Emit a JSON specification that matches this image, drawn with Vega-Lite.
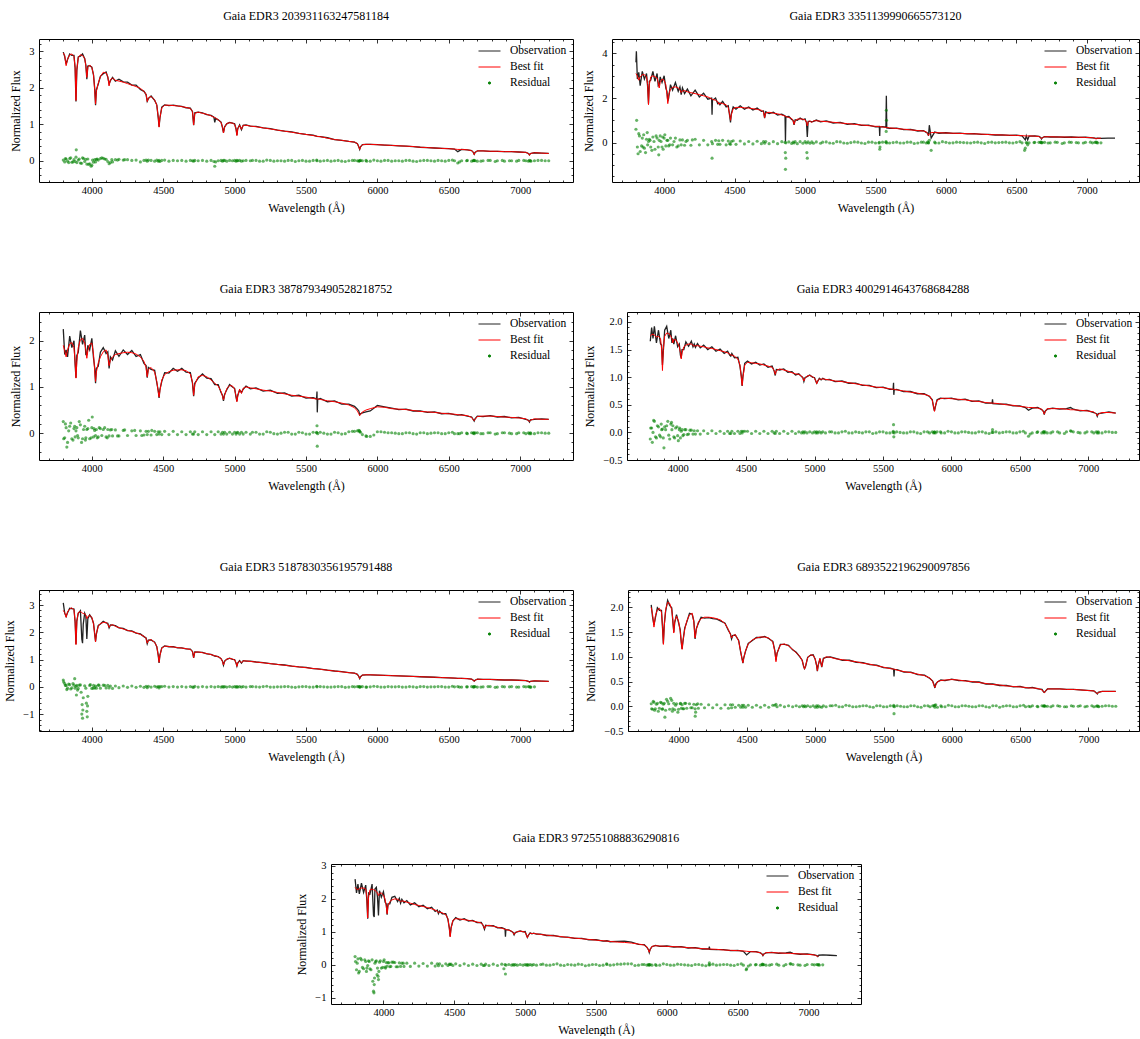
{
"$schema": "https://vega.github.io/schema/vega-lite/v6.json",
"padding": {"left": 3, "top": 9, "right": 0, "bottom": 0},
"spacing": 68,
"resolve": {"scale": {"color": "independent"}, "legend": {"color": "independent"}},
"datasets": {
"p1": [
{"w":3800,"fit":2.95,"obs":2.97,"res":0.02},{"w":3810,"fit":2.88,"obs":2.85,"res":-0.03},{"w":3815,"res":0.06},{"w":3820,"fit":2.6,"obs":2.64,"res":0.05},{"w":3830,"fit":2.78,"obs":2.77,"res":-0.01},{"w":3838,"res":-0.05},{"w":3845,"fit":2.9,"obs":2.92,"res":0.06},{"w":3852,"res":0.08},{"w":3860,"fit":2.92,"obs":2.88,"res":-0.04},{"w":3868,"res":-0.03},{"w":3875,"fit":2.85,"obs":2.88,"res":0.03},{"w":3883,"fit":2.55,"obs":2.53,"res":-0.02},{"w":3889,"fit":1.65,"obs":1.62,"res":0.1},{"w":3891,"res":0.3},{"w":3895,"fit":2.5,"obs":2.47,"res":-0.05},{"w":3905,"fit":2.82,"obs":2.84,"res":0.02},{"w":3912,"res":0.05},{"w":3920,"fit":2.9,"obs":2.86,"res":-0.06},{"w":3928,"res":-0.07},{"w":3935,"fit":2.88,"obs":2.92,"res":0.08},{"w":3942,"res":0.06},{"w":3950,"fit":2.8,"obs":2.79,"res":-0.02},{"w":3958,"fit":2.6,"obs":2.62,"res":0.04},{"w":3965,"fit":2.28,"obs":2.23,"res":-0.09},{"w":3972,"fit":2.55,"obs":2.59,"res":0.05},{"w":3978,"res":-0.1},{"w":3985,"fit":2.62,"obs":2.6,"res":-0.08},{"w":3995,"res":-0.15},{"w":4000,"fit":2.55,"obs":2.56,"res":-0.12},{"w":4005,"res":0.02},{"w":4012,"fit":2.35,"obs":2.34,"res":-0.04},{"w":4020,"fit":1.95,"obs":1.98,"res":0.03},{"w":4026,"fit":1.55,"obs":1.52,"res":-0.03},{"w":4032,"fit":1.9,"obs":1.94,"res":0.04},{"w":4038,"res":0.05},{"w":4045,"fit":2.12,"obs":2.1,"res":0.02},{"w":4060,"fit":2.3,"obs":2.31,"res":0.06},{"w":4070,"res":0.08},{"w":4080,"fit":2.42,"obs":2.38,"res":0.07},{"w":4090,"res":0.05},{"w":4100,"fit":2.4,"obs":2.43,"res":0.04},{"w":4112,"fit":2.3,"obs":2.28,"res":-0.02},{"w":4121,"fit":2.05,"obs":2.1,"res":-0.08},{"w":4130,"fit":2.22,"obs":2.19,"res":-0.05},{"w":4140,"res":0.03},{"w":4145,"fit":2.26,"obs":2.28,"res":-0.03},{"w":4165,"fit":2.2,"obs":2.18,"res":0.03},{"w":4180,"res":0.02},{"w":4190,"fit":2.18,"obs":2.23,"res":0.04},{"w":4220,"fit":2.15,"obs":2.16,"res":0.02},{"w":4230,"res":0.03},{"w":4250,"fit":2.11,"obs":2.15,"res":0.03},{"w":4280,"fit":2.07,"obs":2.07,"res":0.01},{"w":4310,"fit":2.03,"obs":2.07,"res":0.02},{"w":4340,"fit":1.98,"obs":1.95,"res":-0.03},{"w":4365,"fit":1.9,"obs":1.9,"res":0.01},{"w":4380,"fit":1.82,"obs":1.81,"res":0.02},{"w":4388,"fit":1.62,"obs":1.63,"res":-0.01},{"w":4396,"fit":1.72,"obs":1.7,"res":0.02},{"w":4415,"fit":1.76,"obs":1.77,"res":0.01},{"w":4440,"fit":1.66,"obs":1.65,"res":-0.01},{"w":4455,"fit":1.52,"obs":1.53,"res":0.02},{"w":4465,"fit":1.2,"obs":1.18,"res":-0.01},{"w":4471,"fit":0.92,"obs":0.93,"res":0.01},{"w":4477,"fit":1.18,"obs":1.17,"res":-0.02},{"w":4490,"fit":1.45,"obs":1.47,"res":0.01},{"w":4510,"fit":1.52,"obs":1.53,"res":0.02},{"w":4540,"fit":1.52,"obs":1.51,"res":-0.01},{"w":4570,"fit":1.51,"obs":1.52,"res":0.01},{"w":4600,"fit":1.5,"obs":1.5,"res":0},{"w":4630,"fit":1.48,"obs":1.49,"res":0.01},{"w":4660,"fit":1.46,"obs":1.45,"res":-0.01},{"w":4690,"fit":1.43,"obs":1.44,"res":0.01},{"w":4705,"fit":1.35,"obs":1.34,"res":0},{"w":4713,"fit":0.98,"obs":0.97,"res":-0.01},{"w":4721,"fit":1.3,"obs":1.31,"res":0.01},{"w":4745,"fit":1.33,"obs":1.33,"res":0},{"w":4775,"fit":1.3,"obs":1.31,"res":0.01},{"w":4805,"fit":1.27,"obs":1.26,"res":-0.01},{"w":4835,"fit":1.23,"obs":1.24,"res":0.01},{"w":4855,"fit":1.19,"obs":1.19,"res":-0.02},{"w":4861,"fit":1.18,"obs":1.05,"res":-0.15},{"w":4867,"fit":1.17,"obs":1.16,"res":-0.03},{"w":4885,"fit":1.12,"obs":1.12,"res":0},{"w":4905,"fit":1.05,"obs":1.06,"res":0.01},{"w":4915,"fit":0.92,"obs":0.91,"res":-0.01},{"w":4922,"fit":0.76,"obs":0.77,"res":0.01},{"w":4930,"fit":0.92,"obs":0.93,"res":0.01},{"w":4945,"fit":1.02,"obs":1.01,"res":-0.01},{"w":4965,"fit":1.04,"obs":1.05,"res":0.01},{"w":4985,"fit":1.03,"obs":1.03,"res":0},{"w":5000,"fit":1.0,"obs":1.01,"res":0.01},{"w":5010,"fit":0.88,"obs":0.87,"res":-0.01},{"w":5016,"fit":0.69,"obs":0.7,"res":0.01},{"w":5022,"fit":0.88,"obs":0.88,"res":0},{"w":5035,"fit":0.97,"obs":0.98,"res":0.01},{"w":5048,"fit":0.86,"obs":0.85,"res":-0.01},{"w":5060,"fit":0.97,"obs":0.97,"res":0},{"w":5080,"fit":0.97,"obs":0.98,"res":0.01},{"w":5110,"fit":0.95,"obs":0.95,"res":0},{"w":5150,"fit":0.93,"obs":0.94,"res":0.01},{"w":5200,"fit":0.9,"obs":0.9,"res":-0.01},{"w":5250,"fit":0.87,"obs":0.88,"res":0.01},{"w":5300,"fit":0.84,"obs":0.84,"res":0},{"w":5350,"fit":0.81,"obs":0.81,"res":-0.01},{"w":5400,"fit":0.78,"obs":0.79,"res":0.01},{"w":5450,"fit":0.75,"obs":0.75,"res":0},{"w":5500,"fit":0.72,"obs":0.72,"res":-0.01},{"w":5550,"fit":0.69,"obs":0.7,"res":0.01},{"w":5577,"fit":0.67,"obs":0.67,"res":0},{"w":5600,"fit":0.66,"obs":0.66,"res":-0.01},{"w":5650,"fit":0.62,"obs":0.63,"res":0.01},{"w":5700,"fit":0.58,"obs":0.58,"res":0},{"w":5750,"fit":0.56,"obs":0.56,"res":-0.01},{"w":5800,"fit":0.53,"obs":0.53,"res":0},{"w":5840,"fit":0.51,"obs":0.51,"res":0.01},{"w":5860,"fit":0.47,"obs":0.47,"res":0},{"w":5870,"fit":0.38,"obs":0.38,"res":-0.01},{"w":5876,"fit":0.31,"obs":0.31,"res":0},{"w":5882,"fit":0.38,"obs":0.38,"res":0.01},{"w":5895,"fit":0.44,"obs":0.44,"res":0},{"w":5920,"fit":0.45,"obs":0.45,"res":0.01},{"w":5950,"fit":0.45,"obs":0.45,"res":-0.01},{"w":6000,"fit":0.44,"obs":0.44,"res":0},{"w":6050,"fit":0.43,"obs":0.43,"res":0.01},{"w":6100,"fit":0.42,"obs":0.42,"res":-0.01},{"w":6150,"fit":0.41,"obs":0.41,"res":0},{"w":6200,"fit":0.4,"obs":0.4,"res":0.01},{"w":6250,"fit":0.39,"obs":0.39,"res":-0.01},{"w":6300,"fit":0.37,"obs":0.37,"res":0},{"w":6350,"fit":0.36,"obs":0.36,"res":0.01},{"w":6400,"fit":0.35,"obs":0.35,"res":-0.01},{"w":6450,"fit":0.34,"obs":0.34,"res":0},{"w":6500,"fit":0.33,"obs":0.33,"res":0.01},{"w":6540,"fit":0.32,"obs":0.32,"res":0},{"w":6563,"fit":0.31,"obs":0.25,"res":-0.06},{"w":6590,"fit":0.31,"obs":0.31,"res":0},{"w":6630,"fit":0.3,"obs":0.3,"res":0.01},{"w":6660,"fit":0.28,"obs":0.28,"res":-0.01},{"w":6672,"fit":0.23,"obs":0.23,"res":0},{"w":6678,"fit":0.17,"obs":0.18,"res":0.01},{"w":6684,"fit":0.23,"obs":0.23,"res":0},{"w":6700,"fit":0.27,"obs":0.27,"res":-0.01},{"w":6740,"fit":0.27,"obs":0.27,"res":0},{"w":6790,"fit":0.26,"obs":0.26,"res":0.01},{"w":6840,"fit":0.26,"obs":0.26,"res":0},{"w":6890,"fit":0.25,"obs":0.25,"res":-0.01},{"w":6940,"fit":0.25,"obs":0.25,"res":0},{"w":6990,"fit":0.24,"obs":0.24,"res":0.01},{"w":7040,"fit":0.23,"obs":0.23,"res":0},{"w":7058,"fit":0.2,"obs":0.2,"res":-0.01},{"w":7065,"fit":0.15,"obs":0.16,"res":0.01},{"w":7072,"fit":0.2,"obs":0.2,"res":0},{"w":7100,"fit":0.22,"obs":0.22,"res":0},{"w":7150,"fit":0.21,"obs":0.21,"res":0.01},{"w":7200,"fit":0.2,"obs":0.2,"res":0},
{"w":5125,"res":0.01},{"w":5175,"res":-0.01},{"w":5225,"res":0.02},{"w":5275,"res":-0.01},{"w":5325,"res":0},{"w":5375,"res":0.01},{"w":5425,"res":-0.02},{"w":5475,"res":0.01},{"w":5525,"res":-0.01},{"w":5575,"res":0.02},{"w":5625,"res":0},{"w":5675,"res":-0.01},{"w":5725,"res":0.01},{"w":5775,"res":-0.02},{"w":5825,"res":0.01},{"w":5875,"res":0},{"w":5925,"res":-0.01},{"w":5975,"res":0.02},{"w":6025,"res":-0.01},{"w":6075,"res":0.01},{"w":6125,"res":0},{"w":6175,"res":-0.01},{"w":6225,"res":0.01},{"w":6275,"res":-0.02},{"w":6325,"res":0.01},{"w":6375,"res":0},{"w":6425,"res":0.01},{"w":6475,"res":-0.01},{"w":6525,"res":0.02},{"w":6575,"res":-0.03},{"w":6625,"res":0},{"w":6675,"res":0.01},{"w":6725,"res":-0.01},{"w":6775,"res":0.01},{"w":6825,"res":-0.02},{"w":6875,"res":0.01},{"w":6925,"res":0},{"w":6975,"res":-0.01},{"w":7025,"res":0.01},{"w":7075,"res":-0.01},{"w":7125,"res":0.01},{"w":7175,"res":0}
],
"p2": [
{"w":3800,"fit":3.1,"obs":3.6,"res":0.6},{"w":3803,"obs":4.1},{"w":3805,"res":1.0},{"w":3810,"fit":3.0,"obs":2.85,"res":-0.2},{"w":3815,"res":-0.5},{"w":3820,"fit":2.8,"obs":3.15,"res":0.4},{"w":3825,"res":0.3},{"w":3830,"fit":2.95,"obs":2.55,"res":-0.4},{"w":3840,"res":-0.15},{"w":3845,"fit":3.05,"obs":3.2,"res":0.2},{"w":3850,"res":-0.2},{"w":3855,"res":0.35},{"w":3860,"fit":3.05,"obs":2.85,"res":-0.25},{"w":3868,"res":-0.45},{"w":3875,"fit":2.95,"obs":3.1,"res":0.15},{"w":3880,"res":0.45},{"w":3883,"fit":2.6,"obs":2.5,"res":-0.1},{"w":3889,"fit":1.7,"obs":1.75,"res":0.05},{"w":3895,"fit":2.6,"obs":2.75,"res":0.15},{"w":3900,"res":0.1},{"w":3905,"fit":2.95,"obs":2.8,"res":-0.2},{"w":3913,"res":-0.35},{"w":3920,"fit":3.0,"obs":3.2,"res":0.25},{"w":3928,"res":0.05},{"w":3935,"fit":2.95,"obs":2.75,"res":-0.3},{"w":3943,"res":0.3},{"w":3950,"fit":2.9,"obs":3.1,"res":0.2},{"w":3958,"fit":2.7,"obs":2.55,"res":-0.2},{"w":3962,"res":-0.55},{"w":3965,"fit":2.45,"obs":2.6,"res":0.1},{"w":3972,"fit":2.7,"obs":2.95,"res":0.3},{"w":3978,"res":0.05},{"w":3985,"fit":2.85,"obs":2.7,"res":-0.2},{"w":3990,"res":0.25},{"w":3993,"res":-0.3},{"w":4000,"fit":2.8,"obs":3.0,"res":0.2},{"w":4005,"res":0.35},{"w":4012,"fit":2.6,"obs":2.45,"res":-0.15},{"w":4020,"fit":2.15,"obs":2.3,"res":0.1},{"w":4026,"fit":1.75,"obs":1.85,"res":0.1},{"w":4032,"fit":2.15,"obs":2.0,"res":-0.15},{"w":4040,"res":-0.1},{"w":4045,"fit":2.4,"obs":2.6,"res":0.2},{"w":4060,"fit":2.48,"obs":2.35,"res":-0.1},{"w":4070,"res":0.05},{"w":4080,"fit":2.5,"obs":2.7,"res":0.2},{"w":4090,"res":-0.2},{"w":4100,"fit":2.45,"obs":2.3,"res":-0.15},{"w":4112,"fit":2.38,"obs":2.5,"res":0.12},{"w":4121,"fit":2.25,"obs":2.15,"res":-0.1},{"w":4130,"fit":2.32,"obs":2.45,"res":0.12},{"w":4145,"fit":2.33,"obs":2.2,"res":-0.12},{"w":4155,"res":0.05},{"w":4165,"fit":2.28,"obs":2.4,"res":0.1},{"w":4190,"fit":2.24,"obs":2.1,"res":-0.12},{"w":4200,"res":0.12},{"w":4220,"fit":2.2,"obs":2.35,"res":0.15},{"w":4250,"fit":2.15,"obs":2.05,"res":-0.1},{"w":4280,"fit":2.1,"obs":2.22,"res":0.1},{"w":4310,"fit":2.05,"obs":1.95,"res":-0.1},{"w":4337,"fit":1.96,"obs":2.0,"res":0.05},{"w":4340,"fit":1.95,"obs":1.25,"res":-0.7},{"w":4343,"fit":1.94,"obs":1.9,"res":-0.05},{"w":4365,"fit":1.9,"obs":2.0,"res":0.1},{"w":4380,"fit":1.84,"obs":1.75,"res":-0.08},{"w":4388,"fit":1.72,"obs":1.8,"res":0.08},{"w":4396,"fit":1.78,"obs":1.7,"res":-0.08},{"w":4415,"fit":1.75,"obs":1.85,"res":0.1},{"w":4440,"fit":1.7,"obs":1.6,"res":-0.1},{"w":4455,"fit":1.58,"obs":1.65,"res":0.07},{"w":4465,"fit":1.25,"obs":1.2,"res":-0.05},{"w":4471,"fit":1.0,"obs":0.9,"res":-0.08},{"w":4477,"fit":1.25,"obs":1.3,"res":0.05},{"w":4490,"fit":1.52,"obs":1.6,"res":0.08},{"w":4510,"fit":1.58,"obs":1.5,"res":-0.08},{"w":4540,"fit":1.58,"obs":1.65,"res":0.07},{"w":4570,"fit":1.56,"obs":1.5,"res":-0.06},{"w":4600,"fit":1.55,"obs":1.6,"res":0.05},{"w":4630,"fit":1.52,"obs":1.46,"res":-0.06},{"w":4660,"fit":1.49,"obs":1.55,"res":0.06},{"w":4690,"fit":1.45,"obs":1.4,"res":-0.05},{"w":4705,"fit":1.38,"obs":1.42,"res":0.04},{"w":4713,"fit":1.12,"obs":1.1,"res":-0.03},{"w":4721,"fit":1.33,"obs":1.38,"res":0.05},{"w":4745,"fit":1.36,"obs":1.3,"res":-0.05},{"w":4775,"fit":1.32,"obs":1.36,"res":0.04},{"w":4805,"fit":1.29,"obs":1.24,"res":-0.05},{"w":4835,"fit":1.24,"obs":1.28,"res":0.04},{"w":4858,"fit":1.19,"obs":1.2,"res":0.01},{"w":4860,"res":-0.45},{"w":4861,"fit":1.18,"obs":0.05,"res":-1.2},{"w":4863,"res":-0.7},{"w":4864,"fit":1.17,"obs":1.16,"res":-0.01},{"w":4885,"fit":1.13,"obs":1.17,"res":0.03},{"w":4905,"fit":1.08,"obs":1.04,"res":-0.04},{"w":4915,"fit":0.98,"obs":1.0,"res":0.02},{"w":4922,"fit":0.82,"obs":0.8,"res":-0.02},{"w":4930,"fit":0.98,"obs":1.02,"res":0.04},{"w":4945,"fit":1.05,"obs":1.0,"res":-0.05},{"w":4965,"fit":1.06,"obs":1.1,"res":0.04},{"w":4985,"fit":1.05,"obs":1.02,"res":-0.03},{"w":5000,"fit":1.02,"obs":1.06,"res":0.04},{"w":5010,"fit":0.92,"obs":0.9,"res":-0.02},{"w":5013,"res":-0.45},{"w":5016,"fit":0.75,"obs":0.25,"res":-0.7},{"w":5022,"fit":0.92,"obs":0.95,"res":0.03},{"w":5035,"fit":0.98,"obs":0.95,"res":-0.03},{"w":5048,"fit":0.9,"obs":0.93,"res":0.03},{"w":5060,"fit":0.98,"obs":0.95,"res":-0.03},{"w":5080,"fit":0.98,"obs":1.01,"res":0.03},{"w":5110,"fit":0.96,"obs":0.93,"res":-0.03},{"w":5150,"fit":0.94,"obs":0.97,"res":0.03},{"w":5200,"fit":0.91,"obs":0.88,"res":-0.03},{"w":5250,"fit":0.88,"obs":0.91,"res":0.03},{"w":5300,"fit":0.85,"obs":0.82,"res":-0.03},{"w":5350,"fit":0.82,"obs":0.85,"res":0.03},{"w":5400,"fit":0.79,"obs":0.77,"res":-0.02},{"w":5450,"fit":0.76,"obs":0.78,"res":0.02},{"w":5500,"fit":0.73,"obs":0.71,"res":-0.02},{"w":5527,"fit":0.72,"obs":0.72,"res":0.01},{"w":5530,"fit":0.71,"obs":0.3,"res":-0.3},{"w":5532,"fit":0.71,"obs":0.7,"res":-0.2},{"w":5550,"fit":0.7,"obs":0.72,"res":0.02},{"w":5574,"fit":0.68,"obs":0.69,"res":0.01},{"w":5576,"res":0.5},{"w":5577,"fit":0.68,"obs":2.1,"res":1.45},{"w":5578,"res":1.0},{"w":5580,"fit":0.68,"obs":0.66,"res":-0.02},{"w":5600,"fit":0.66,"obs":0.64,"res":-0.02},{"w":5650,"fit":0.63,"obs":0.65,"res":0.02},{"w":5700,"fit":0.6,"obs":0.58,"res":-0.02},{"w":5750,"fit":0.57,"obs":0.59,"res":0.02},{"w":5800,"fit":0.54,"obs":0.52,"res":-0.02},{"w":5840,"fit":0.52,"obs":0.54,"res":0.02},{"w":5860,"fit":0.48,"obs":0.46,"res":-0.02},{"w":5870,"fit":0.4,"obs":0.42,"res":0.02},{"w":5876,"fit":0.32,"obs":0.3,"res":-0.02},{"w":5882,"fit":0.4,"obs":0.78,"res":0.1},{"w":5895,"fit":0.45,"obs":0.2,"res":-0.35},{"w":5920,"fit":0.45,"obs":0.47,"res":0.02},{"w":5950,"fit":0.44,"obs":0.42,"res":-0.02},{"w":6000,"fit":0.43,"obs":0.44,"res":0.01},{"w":6050,"fit":0.42,"obs":0.41,"res":-0.01},{"w":6100,"fit":0.41,"obs":0.42,"res":0.01},{"w":6150,"fit":0.4,"obs":0.39,"res":-0.01},{"w":6200,"fit":0.39,"obs":0.4,"res":0.01},{"w":6250,"fit":0.38,"obs":0.37,"res":-0.01},{"w":6300,"fit":0.36,"obs":0.37,"res":0.01},{"w":6350,"fit":0.35,"obs":0.34,"res":-0.01},{"w":6400,"fit":0.34,"obs":0.35,"res":0.01},{"w":6450,"fit":0.33,"obs":0.32,"res":-0.01},{"w":6500,"fit":0.32,"obs":0.33,"res":0.01},{"w":6540,"fit":0.31,"obs":0.3,"res":-0.01},{"w":6558,"res":-0.35},{"w":6563,"fit":0.3,"obs":0.12,"res":-0.25},{"w":6570,"fit":0.3,"obs":0.3,"res":0},{"w":6580,"fit":0.3,"obs":0.12,"res":-0.1},{"w":6590,"fit":0.3,"obs":0.29,"res":-0.01},{"w":6630,"fit":0.29,"obs":0.3,"res":0.01},{"w":6660,"fit":0.27,"obs":0.28,"res":0.01},{"w":6672,"fit":0.22,"obs":0.23,"res":0.01},{"w":6678,"fit":0.17,"obs":0.16,"res":-0.01},{"w":6684,"fit":0.22,"obs":0.22,"res":0},{"w":6700,"fit":0.26,"obs":0.27,"res":0.01},{"w":6740,"fit":0.26,"obs":0.25,"res":-0.01},{"w":6790,"fit":0.25,"obs":0.26,"res":0.01},{"w":6840,"fit":0.25,"obs":0.24,"res":-0.01},{"w":6890,"fit":0.24,"obs":0.25,"res":0.01},{"w":6940,"fit":0.24,"obs":0.23,"res":-0.01},{"w":6990,"fit":0.23,"obs":0.24,"res":0.01},{"w":7040,"fit":0.22,"obs":0.21,"res":-0.01},{"w":7058,"fit":0.19,"obs":0.2,"res":0.01},{"w":7065,"fit":0.16,"obs":0.18,"res":0.02},{"w":7072,"fit":0.19,"obs":0.2,"res":0.01},{"w":7100,"fit":0.2,"obs":0.19,"res":-0.01},{"w":7150,"obs":0.2},{"w":7200,"obs":0.2},
{"w":5125,"res":0.02},{"w":5175,"res":-0.02},{"w":5225,"res":0.04},{"w":5275,"res":-0.02},{"w":5325,"res":0},{"w":5375,"res":0.02},{"w":5425,"res":-0.04},{"w":5475,"res":0.02},{"w":5525,"res":-0.02},{"w":5575,"res":0.04},{"w":5625,"res":0},{"w":5675,"res":-0.02},{"w":5725,"res":0.02},{"w":5775,"res":-0.04},{"w":5825,"res":0.02},{"w":5875,"res":0},{"w":5925,"res":-0.02},{"w":5975,"res":0.04},{"w":6025,"res":-0.02},{"w":6075,"res":0.02},{"w":6125,"res":0},{"w":6175,"res":-0.02},{"w":6225,"res":0.02},{"w":6275,"res":-0.04},{"w":6325,"res":0.02},{"w":6375,"res":0},{"w":6425,"res":0.02},{"w":6475,"res":-0.02},{"w":6525,"res":0.04},{"w":6575,"res":-0.02},{"w":6625,"res":0},{"w":6675,"res":0.02},{"w":6725,"res":-0.02},{"w":6775,"res":0.02},{"w":6825,"res":-0.04},{"w":6875,"res":0.02},{"w":6925,"res":0},{"w":6975,"res":-0.02},{"w":7025,"res":0.02},{"w":7075,"res":-0.02}
],
"p3": [
{"w":3800,"fit":1.9,"obs":2.25,"res":0.25},{"w":3803,"res":-0.12},{"w":3810,"fit":1.78,"obs":1.7,"res":-0.1},{"w":3815,"res":0.2},{"w":3820,"fit":1.65,"obs":1.8,"res":0.12},{"w":3825,"res":-0.3},{"w":3830,"fit":1.8,"obs":1.65,"res":-0.2},{"w":3838,"res":0.05},{"w":3845,"fit":1.93,"obs":2.1,"res":0.15},{"w":3852,"res":0.22},{"w":3860,"fit":1.96,"obs":1.85,"res":-0.12},{"w":3868,"res":-0.15},{"w":3875,"fit":1.85,"obs":2.0,"res":0.1},{"w":3880,"res":0.15},{"w":3883,"fit":1.55,"obs":1.48,"res":-0.08},{"w":3889,"fit":1.19,"obs":1.2,"res":0.05},{"w":3895,"fit":1.55,"obs":1.68,"res":0.12},{"w":3900,"res":-0.05},{"w":3905,"fit":1.85,"obs":1.75,"res":-0.1},{"w":3912,"res":0.25},{"w":3920,"fit":2.02,"obs":2.22,"res":0.18},{"w":3928,"res":-0.2},{"w":3935,"fit":2.05,"obs":1.92,"res":-0.12},{"w":3942,"res":0.08},{"w":3950,"fit":1.95,"obs":2.12,"res":0.15},{"w":3955,"res":-0.15},{"w":3958,"fit":1.8,"obs":1.7,"res":-0.1},{"w":3965,"fit":1.62,"obs":1.7,"res":0.08},{"w":3972,"fit":1.78,"obs":1.9,"res":0.1},{"w":3978,"res":0.28},{"w":3985,"fit":1.92,"obs":1.8,"res":-0.12},{"w":3995,"res":-0.1},{"w":4000,"fit":1.95,"obs":2.05,"res":0.12},{"w":4003,"res":0.35},{"w":4012,"fit":1.7,"obs":1.62,"res":-0.08},{"w":4015,"res":0.1},{"w":4020,"fit":1.35,"obs":1.42,"res":0.06},{"w":4026,"fit":1.12,"obs":1.08,"res":-0.05},{"w":4032,"fit":1.32,"obs":1.4,"res":0.08},{"w":4038,"res":-0.1},{"w":4045,"fit":1.52,"obs":1.45,"res":-0.08},{"w":4052,"res":0.12},{"w":4060,"fit":1.65,"obs":1.75,"res":0.1},{"w":4070,"res":-0.05},{"w":4080,"fit":1.76,"obs":1.85,"res":0.08},{"w":4090,"res":0.12},{"w":4100,"fit":1.8,"obs":1.72,"res":-0.08},{"w":4108,"res":-0.1},{"w":4112,"fit":1.68,"obs":1.76,"res":0.08},{"w":4121,"fit":1.46,"obs":1.4,"res":-0.06},{"w":4130,"fit":1.58,"obs":1.65,"res":0.07},{"w":4140,"res":0.08},{"w":4145,"fit":1.65,"obs":1.58,"res":-0.06},{"w":4165,"fit":1.7,"obs":1.78,"res":0.07},{"w":4180,"res":-0.06},{"w":4190,"fit":1.72,"obs":1.66,"res":-0.06},{"w":4220,"fit":1.74,"obs":1.8,"res":0.06},{"w":4230,"res":0.07},{"w":4250,"fit":1.75,"obs":1.7,"res":-0.05},{"w":4280,"fit":1.74,"obs":1.79,"res":0.05},{"w":4300,"res":0.06},{"w":4310,"fit":1.71,"obs":1.66,"res":-0.05},{"w":4340,"fit":1.65,"obs":1.7,"res":0.05},{"w":4350,"res":-0.05},{"w":4365,"fit":1.55,"obs":1.51,"res":-0.04},{"w":4380,"fit":1.42,"obs":1.46,"res":0.04},{"w":4388,"fit":1.22,"obs":1.2,"res":-0.03},{"w":4396,"fit":1.38,"obs":1.42,"res":0.04},{"w":4415,"fit":1.42,"obs":1.38,"res":-0.04},{"w":4420,"res":0.06},{"w":4440,"fit":1.32,"obs":1.36,"res":0.04},{"w":4455,"fit":1.12,"obs":1.09,"res":-0.03},{"w":4465,"fit":0.9,"obs":0.92,"res":0.03},{"w":4471,"fit":0.78,"obs":0.76,"res":-0.02},{"w":4477,"fit":0.92,"obs":0.95,"res":0.03},{"w":4490,"fit":1.15,"obs":1.12,"res":-0.03},{"w":4510,"fit":1.27,"obs":1.31,"res":0.04},{"w":4540,"fit":1.33,"obs":1.3,"res":-0.03},{"w":4570,"fit":1.36,"obs":1.4,"res":0.04},{"w":4600,"fit":1.37,"obs":1.34,"res":-0.03},{"w":4630,"fit":1.37,"obs":1.4,"res":0.03},{"w":4660,"fit":1.35,"obs":1.32,"res":-0.03},{"w":4690,"fit":1.28,"obs":1.31,"res":0.03},{"w":4705,"fit":1.1,"obs":1.08,"res":-0.02},{"w":4713,"fit":0.82,"obs":0.8,"res":-0.02},{"w":4721,"fit":1.05,"obs":1.08,"res":0.03},{"w":4745,"fit":1.22,"obs":1.19,"res":-0.03},{"w":4775,"fit":1.25,"obs":1.28,"res":0.03},{"w":4805,"fit":1.22,"obs":1.19,"res":-0.03},{"w":4835,"fit":1.15,"obs":1.18,"res":0.03},{"w":4861,"fit":1.08,"obs":1.05,"res":-0.03},{"w":4885,"fit":1.02,"obs":1.05,"res":0.03},{"w":4905,"fit":0.9,"obs":0.88,"res":-0.02},{"w":4915,"fit":0.8,"obs":0.82,"res":0.02},{"w":4922,"fit":0.72,"obs":0.7,"res":-0.02},{"w":4930,"fit":0.82,"obs":0.84,"res":0.02},{"w":4945,"fit":0.96,"obs":0.94,"res":-0.02},{"w":4965,"fit":1.03,"obs":1.05,"res":0.02},{"w":4985,"fit":1.02,"obs":1.0,"res":-0.02},{"w":5000,"fit":0.95,"obs":0.97,"res":0.02},{"w":5010,"fit":0.8,"obs":0.78,"res":-0.02},{"w":5016,"fit":0.68,"obs":0.69,"res":0.01},{"w":5022,"fit":0.8,"obs":0.82,"res":0.02},{"w":5035,"fit":0.95,"obs":0.93,"res":-0.02},{"w":5048,"fit":0.86,"obs":0.88,"res":0.02},{"w":5060,"fit":0.97,"obs":0.95,"res":-0.02},{"w":5080,"fit":1.0,"obs":1.02,"res":0.02},{"w":5110,"fit":0.98,"obs":0.96,"res":-0.02},{"w":5150,"fit":0.96,"obs":0.98,"res":0.02},{"w":5200,"fit":0.93,"obs":0.91,"res":-0.02},{"w":5250,"fit":0.91,"obs":0.93,"res":0.02},{"w":5300,"fit":0.88,"obs":0.86,"res":-0.02},{"w":5350,"fit":0.85,"obs":0.87,"res":0.02},{"w":5400,"fit":0.82,"obs":0.8,"res":-0.02},{"w":5450,"fit":0.8,"obs":0.82,"res":0.02},{"w":5500,"fit":0.78,"obs":0.76,"res":-0.02},{"w":5550,"fit":0.75,"obs":0.77,"res":0.02},{"w":5574,"fit":0.74,"obs":0.74,"res":0.01},{"w":5577,"fit":0.74,"obs":0.9,"res":0.16},{"w":5579,"fit":0.74,"obs":0.45,"res":-0.28},{"w":5582,"fit":0.74,"obs":0.73,"res":-0.01},{"w":5600,"fit":0.73,"obs":0.75,"res":0.02},{"w":5650,"fit":0.7,"obs":0.68,"res":-0.02},{"w":5700,"fit":0.68,"obs":0.7,"res":0.02},{"w":5750,"fit":0.65,"obs":0.63,"res":-0.02},{"w":5800,"fit":0.61,"obs":0.63,"res":0.03},{"w":5840,"fit":0.55,"obs":0.58,"res":0.04},{"w":5860,"fit":0.48,"obs":0.52,"res":0.05},{"w":5870,"fit":0.42,"obs":0.48,"res":0.06},{"w":5876,"fit":0.38,"obs":0.4,"res":0.03},{"w":5882,"fit":0.4,"obs":0.42,"res":0.02},{"w":5895,"fit":0.46,"obs":0.44,"res":-0.03},{"w":5920,"fit":0.5,"obs":0.46,"res":-0.06},{"w":5950,"fit":0.53,"obs":0.48,"res":-0.07},{"w":6000,"fit":0.57,"obs":0.6,"res":0.03},{"w":6050,"fit":0.56,"obs":0.57,"res":0.02},{"w":6100,"fit":0.53,"obs":0.54,"res":0.01},{"w":6150,"fit":0.52,"obs":0.51,"res":-0.01},{"w":6200,"fit":0.51,"obs":0.52,"res":0.01},{"w":6250,"fit":0.49,"obs":0.48,"res":-0.01},{"w":6300,"fit":0.47,"obs":0.48,"res":0.01},{"w":6350,"fit":0.46,"obs":0.45,"res":-0.01},{"w":6400,"fit":0.45,"obs":0.46,"res":0.01},{"w":6450,"fit":0.43,"obs":0.42,"res":-0.01},{"w":6500,"fit":0.42,"obs":0.43,"res":0.01},{"w":6540,"fit":0.41,"obs":0.4,"res":-0.01},{"w":6563,"fit":0.4,"obs":0.39,"res":-0.01},{"w":6590,"fit":0.39,"obs":0.4,"res":0.01},{"w":6630,"fit":0.38,"obs":0.37,"res":-0.01},{"w":6660,"fit":0.34,"obs":0.35,"res":0.01},{"w":6672,"fit":0.29,"obs":0.29,"res":0},{"w":6678,"fit":0.27,"obs":0.26,"res":-0.01},{"w":6684,"fit":0.3,"obs":0.31,"res":0.01},{"w":6700,"fit":0.36,"obs":0.37,"res":0.01},{"w":6740,"fit":0.37,"obs":0.36,"res":-0.01},{"w":6790,"fit":0.37,"obs":0.38,"res":0.01},{"w":6840,"fit":0.36,"obs":0.35,"res":-0.01},{"w":6890,"fit":0.35,"obs":0.36,"res":0.01},{"w":6940,"fit":0.34,"obs":0.33,"res":-0.01},{"w":6990,"fit":0.33,"obs":0.34,"res":0.01},{"w":7040,"fit":0.31,"obs":0.3,"res":-0.01},{"w":7058,"fit":0.27,"obs":0.28,"res":0.01},{"w":7065,"fit":0.25,"obs":0.24,"res":-0.01},{"w":7072,"fit":0.28,"obs":0.29,"res":0.01},{"w":7100,"fit":0.31,"obs":0.3,"res":-0.01},{"w":7150,"fit":0.3,"obs":0.31,"res":0.01},{"w":7200,"fit":0.3,"obs":0.3,"res":0},
{"w":5125,"res":0.02},{"w":5175,"res":-0.02},{"w":5225,"res":0.03},{"w":5275,"res":-0.01},{"w":5325,"res":0},{"w":5375,"res":0.02},{"w":5425,"res":-0.02},{"w":5475,"res":0.01},{"w":5525,"res":-0.02},{"w":5575,"res":0.02},{"w":5625,"res":0},{"w":5675,"res":-0.02},{"w":5725,"res":0.01},{"w":5775,"res":-0.01},{"w":5825,"res":0.04},{"w":5875,"res":0.05},{"w":5925,"res":-0.07},{"w":5975,"res":-0.04},{"w":6025,"res":0.03},{"w":6075,"res":0.01},{"w":6125,"res":0},{"w":6175,"res":-0.01},{"w":6225,"res":0.01},{"w":6275,"res":-0.02},{"w":6325,"res":0.01},{"w":6375,"res":0},{"w":6425,"res":0.01},{"w":6475,"res":-0.01},{"w":6525,"res":0.02},{"w":6575,"res":-0.01},{"w":6625,"res":0},{"w":6675,"res":0.01},{"w":6725,"res":-0.01},{"w":6775,"res":0.01},{"w":6825,"res":-0.02},{"w":6875,"res":0.01},{"w":6925,"res":0},{"w":6975,"res":-0.01},{"w":7025,"res":0.01},{"w":7075,"res":-0.01},{"w":7125,"res":0.01},{"w":7175,"res":0}
],
"p4": [
{"w":3800,"fit":1.75,"obs":1.65,"res":-0.12},{"w":3803,"res":0.08},{"w":3810,"fit":1.77,"obs":1.9,"res":0.08},{"w":3815,"res":-0.18},{"w":3820,"fit":1.78,"obs":1.7,"res":0},{"w":3825,"res":0.22},{"w":3830,"fit":1.76,"obs":1.92,"res":0.2},{"w":3838,"res":-0.08},{"w":3845,"fit":1.73,"obs":1.62,"res":-0.1},{"w":3852,"res":0.12},{"w":3860,"fit":1.74,"obs":1.85,"res":0.1},{"w":3868,"res":-0.05},{"w":3875,"fit":1.7,"obs":1.6,"res":-0.08},{"w":3880,"res":0.15},{"w":3883,"fit":1.5,"obs":1.58,"res":0.05},{"w":3889,"fit":1.12,"obs":1.22,"res":0.06},{"w":3895,"fit":1.5,"obs":1.45,"res":-0.1},{"w":3900,"res":-0.28},{"w":3905,"fit":1.74,"obs":1.85,"res":0.1},{"w":3912,"res":0.05},{"w":3920,"fit":1.8,"obs":1.92,"res":0.12},{"w":3928,"res":0.2},{"w":3935,"fit":1.79,"obs":1.7,"res":-0.05},{"w":3942,"res":-0.12},{"w":3950,"fit":1.74,"obs":1.85,"res":0.15},{"w":3955,"res":0.18},{"w":3958,"fit":1.7,"obs":1.62,"res":0.05},{"w":3965,"fit":1.62,"obs":1.7,"res":0.12},{"w":3972,"fit":1.68,"obs":1.6,"res":-0.08},{"w":3978,"res":-0.1},{"w":3985,"fit":1.68,"obs":1.75,"res":0.08},{"w":3995,"res":0.1},{"w":4000,"fit":1.62,"obs":1.55,"res":-0.06},{"w":4005,"res":-0.15},{"w":4012,"fit":1.55,"obs":1.6,"res":0.05},{"w":4015,"res":0.08},{"w":4020,"fit":1.45,"obs":1.4,"res":-0.1},{"w":4026,"fit":1.33,"obs":1.35,"res":0.02},{"w":4032,"fit":1.44,"obs":1.5,"res":0.05},{"w":4038,"res":-0.06},{"w":4045,"fit":1.55,"obs":1.5,"res":-0.04},{"w":4052,"res":0.05},{"w":4060,"fit":1.58,"obs":1.64,"res":0.05},{"w":4070,"res":-0.04},{"w":4080,"fit":1.6,"obs":1.56,"res":-0.03},{"w":4090,"res":0.04},{"w":4100,"fit":1.6,"obs":1.65,"res":0.04},{"w":4112,"fit":1.58,"obs":1.55,"res":-0.03},{"w":4121,"fit":1.56,"obs":1.6,"res":0.03},{"w":4130,"fit":1.57,"obs":1.54,"res":-0.03},{"w":4145,"fit":1.57,"obs":1.61,"res":0.03},{"w":4165,"fit":1.56,"obs":1.53,"res":-0.03},{"w":4190,"fit":1.55,"obs":1.58,"res":0.03},{"w":4220,"fit":1.53,"obs":1.5,"res":-0.02},{"w":4250,"fit":1.52,"obs":1.55,"res":0.03},{"w":4280,"fit":1.5,"obs":1.47,"res":-0.02},{"w":4310,"fit":1.48,"obs":1.51,"res":0.02},{"w":4340,"fit":1.46,"obs":1.43,"res":-0.02},{"w":4365,"fit":1.44,"obs":1.47,"res":0.02},{"w":4380,"fit":1.42,"obs":1.4,"res":-0.02},{"w":4388,"fit":1.4,"obs":1.38,"res":-0.02},{"w":4396,"fit":1.4,"obs":1.43,"res":0.02},{"w":4415,"fit":1.38,"obs":1.35,"res":-0.02},{"w":4440,"fit":1.33,"obs":1.36,"res":0.02},{"w":4455,"fit":1.22,"obs":1.2,"res":-0.02},{"w":4465,"fit":1.0,"obs":1.02,"res":0.02},{"w":4471,"fit":0.85,"obs":0.84,"res":-0.01},{"w":4477,"fit":1.0,"obs":1.02,"res":0.02},{"w":4490,"fit":1.22,"obs":1.25,"res":0.02},{"w":4510,"fit":1.27,"obs":1.29,"res":0.02},{"w":4540,"fit":1.26,"obs":1.24,"res":-0.02},{"w":4570,"fit":1.25,"obs":1.27,"res":0.02},{"w":4600,"fit":1.24,"obs":1.22,"res":-0.02},{"w":4630,"fit":1.22,"obs":1.24,"res":0.02},{"w":4660,"fit":1.2,"obs":1.18,"res":-0.02},{"w":4690,"fit":1.18,"obs":1.2,"res":0.02},{"w":4705,"fit":1.12,"obs":1.11,"res":-0.01},{"w":4713,"fit":1.05,"obs":1.03,"res":-0.02},{"w":4721,"fit":1.12,"obs":1.14,"res":0.02},{"w":4745,"fit":1.15,"obs":1.13,"res":-0.02},{"w":4775,"fit":1.13,"obs":1.15,"res":0.02},{"w":4805,"fit":1.11,"obs":1.09,"res":-0.02},{"w":4835,"fit":1.08,"obs":1.1,"res":0.02},{"w":4861,"fit":1.06,"obs":1.04,"res":-0.02},{"w":4885,"fit":1.05,"obs":1.06,"res":0.01},{"w":4905,"fit":1.02,"obs":1.01,"res":-0.01},{"w":4915,"fit":0.98,"obs":0.99,"res":0.01},{"w":4922,"fit":0.93,"obs":0.92,"res":-0.01},{"w":4930,"fit":0.98,"obs":0.99,"res":0.01},{"w":4945,"fit":1.02,"obs":1.01,"res":-0.01},{"w":4965,"fit":1.03,"obs":1.04,"res":0.01},{"w":4985,"fit":1.01,"obs":1.0,"res":-0.01},{"w":5000,"fit":0.98,"obs":0.99,"res":0.01},{"w":5010,"fit":0.93,"obs":0.92,"res":-0.01},{"w":5016,"fit":0.88,"obs":0.89,"res":0.01},{"w":5022,"fit":0.93,"obs":0.92,"res":-0.01},{"w":5035,"fit":0.97,"obs":0.98,"res":0.01},{"w":5048,"fit":0.96,"obs":0.95,"res":-0.01},{"w":5060,"fit":0.97,"obs":0.98,"res":0.01},{"w":5080,"fit":0.96,"obs":0.95,"res":-0.01},{"w":5110,"fit":0.95,"obs":0.96,"res":0.01},{"w":5150,"fit":0.93,"obs":0.92,"res":-0.01},{"w":5200,"fit":0.92,"obs":0.93,"res":0.01},{"w":5250,"fit":0.9,"obs":0.89,"res":-0.01},{"w":5300,"fit":0.88,"obs":0.89,"res":0.01},{"w":5350,"fit":0.86,"obs":0.85,"res":-0.01},{"w":5400,"fit":0.84,"obs":0.85,"res":0.01},{"w":5450,"fit":0.82,"obs":0.81,"res":-0.01},{"w":5500,"fit":0.81,"obs":0.82,"res":0.01},{"w":5550,"fit":0.79,"obs":0.78,"res":-0.01},{"w":5574,"fit":0.78,"obs":0.78,"res":0},{"w":5577,"fit":0.78,"obs":0.9,"res":0.14},{"w":5579,"fit":0.78,"obs":0.68,"res":-0.08},{"w":5582,"fit":0.78,"obs":0.77,"res":-0.01},{"w":5600,"fit":0.77,"obs":0.78,"res":0.01},{"w":5650,"fit":0.75,"obs":0.74,"res":-0.01},{"w":5700,"fit":0.73,"obs":0.74,"res":0.01},{"w":5750,"fit":0.71,"obs":0.7,"res":-0.01},{"w":5800,"fit":0.69,"obs":0.7,"res":0.01},{"w":5840,"fit":0.66,"obs":0.65,"res":-0.01},{"w":5860,"fit":0.58,"obs":0.59,"res":0.01},{"w":5870,"fit":0.46,"obs":0.45,"res":-0.01},{"w":5876,"fit":0.38,"obs":0.39,"res":0.01},{"w":5882,"fit":0.47,"obs":0.46,"res":-0.01},{"w":5895,"fit":0.58,"obs":0.59,"res":0.01},{"w":5920,"fit":0.61,"obs":0.62,"res":0.01},{"w":5950,"fit":0.62,"obs":0.61,"res":-0.01},{"w":6000,"fit":0.61,"obs":0.62,"res":0.01},{"w":6050,"fit":0.6,"obs":0.59,"res":-0.01},{"w":6100,"fit":0.59,"obs":0.6,"res":0.01},{"w":6150,"fit":0.57,"obs":0.56,"res":-0.01},{"w":6200,"fit":0.56,"obs":0.57,"res":0.01},{"w":6250,"fit":0.54,"obs":0.53,"res":-0.01},{"w":6297,"fit":0.53,"obs":0.53,"res":0},{"w":6300,"fit":0.53,"obs":0.6,"res":0.05},{"w":6303,"fit":0.53,"obs":0.52,"res":0},{"w":6350,"fit":0.52,"obs":0.51,"res":-0.01},{"w":6400,"fit":0.5,"obs":0.51,"res":0.01},{"w":6450,"fit":0.49,"obs":0.48,"res":-0.01},{"w":6500,"fit":0.47,"obs":0.48,"res":0.01},{"w":6540,"fit":0.46,"obs":0.45,"res":-0.01},{"w":6563,"fit":0.45,"obs":0.4,"res":-0.07},{"w":6590,"fit":0.45,"obs":0.44,"res":-0.01},{"w":6630,"fit":0.44,"obs":0.45,"res":0.01},{"w":6660,"fit":0.42,"obs":0.41,"res":-0.01},{"w":6672,"fit":0.37,"obs":0.38,"res":0.01},{"w":6678,"fit":0.33,"obs":0.32,"res":-0.01},{"w":6684,"fit":0.37,"obs":0.38,"res":0.01},{"w":6700,"fit":0.43,"obs":0.42,"res":-0.01},{"w":6740,"fit":0.43,"obs":0.44,"res":0.01},{"w":6790,"fit":0.43,"obs":0.42,"res":-0.01},{"w":6840,"fit":0.42,"obs":0.43,"res":0.01},{"w":6870,"fit":0.41,"obs":0.45,"res":0.03},{"w":6890,"fit":0.41,"obs":0.42,"res":0.01},{"w":6940,"fit":0.4,"obs":0.39,"res":-0.01},{"w":6990,"fit":0.39,"obs":0.4,"res":0.01},{"w":7040,"fit":0.37,"obs":0.36,"res":-0.01},{"w":7058,"fit":0.33,"obs":0.34,"res":0.01},{"w":7065,"fit":0.3,"obs":0.29,"res":-0.01},{"w":7072,"fit":0.33,"obs":0.34,"res":0.01},{"w":7100,"fit":0.36,"obs":0.35,"res":-0.01},{"w":7150,"fit":0.36,"obs":0.37,"res":0.01},{"w":7200,"fit":0.35,"obs":0.35,"res":0},
{"w":5125,"res":0.01},{"w":5175,"res":-0.01},{"w":5225,"res":0.02},{"w":5275,"res":-0.01},{"w":5325,"res":0},{"w":5375,"res":0.01},{"w":5425,"res":-0.02},{"w":5475,"res":0.01},{"w":5525,"res":-0.01},{"w":5575,"res":0.02},{"w":5625,"res":0},{"w":5675,"res":-0.01},{"w":5725,"res":0.01},{"w":5775,"res":-0.02},{"w":5825,"res":0.01},{"w":5875,"res":0},{"w":5925,"res":-0.01},{"w":5975,"res":0.02},{"w":6025,"res":-0.01},{"w":6075,"res":0.01},{"w":6125,"res":0},{"w":6175,"res":-0.01},{"w":6225,"res":0.01},{"w":6275,"res":-0.02},{"w":6325,"res":0.01},{"w":6375,"res":0},{"w":6425,"res":0.01},{"w":6475,"res":-0.01},{"w":6525,"res":0.02},{"w":6575,"res":-0.03},{"w":6625,"res":0},{"w":6675,"res":0.01},{"w":6725,"res":-0.01},{"w":6775,"res":0.01},{"w":6825,"res":-0.02},{"w":6875,"res":0.02},{"w":6925,"res":0},{"w":6975,"res":-0.01},{"w":7025,"res":0.01},{"w":7075,"res":-0.01},{"w":7125,"res":0.01},{"w":7175,"res":0}
],
"p5": [
{"w":3800,"fit":2.8,"obs":3.08,"res":0.25},{"w":3803,"res":0.18},{"w":3810,"fit":2.72,"obs":2.7,"res":0.12},{"w":3815,"res":0.05},{"w":3820,"fit":2.55,"obs":2.58,"res":0.05},{"w":3825,"res":-0.1},{"w":3830,"fit":2.75,"obs":2.72,"res":-0.05},{"w":3838,"res":0.1},{"w":3845,"fit":2.85,"obs":2.88,"res":0.08},{"w":3852,"res":-0.08},{"w":3860,"fit":2.9,"obs":2.87,"res":-0.04},{"w":3868,"res":0.12},{"w":3875,"fit":2.82,"obs":2.85,"res":0.06},{"w":3880,"res":0.3},{"w":3883,"fit":2.4,"obs":2.37,"res":-0.05},{"w":3889,"fit":1.55,"obs":1.56,"res":0.02},{"w":3892,"res":-0.3},{"w":3895,"fit":2.4,"obs":2.42,"res":0.05},{"w":3900,"res":-0.12},{"w":3905,"fit":2.72,"obs":2.7,"res":-0.06},{"w":3912,"res":0.06},{"w":3920,"fit":2.76,"obs":2.79,"res":0.07},{"w":3925,"res":-0.2},{"w":3930,"fit":2.72,"obs":1.75,"res":-1.0},{"w":3932,"res":-0.65},{"w":3935,"fit":2.7,"obs":1.6,"res":-1.15},{"w":3937,"res":-0.85},{"w":3940,"fit":2.69,"obs":2.3,"res":-0.4},{"w":3950,"fit":2.68,"obs":2.7,"res":0.04},{"w":3958,"fit":2.62,"obs":2.6,"res":-0.05},{"w":3962,"res":-0.6},{"w":3965,"fit":2.5,"obs":1.75,"res":-0.9},{"w":3968,"res":-1.1},{"w":3970,"res":-0.7},{"w":3972,"fit":2.58,"obs":2.5,"res":-0.35},{"w":3985,"fit":2.62,"obs":2.64,"res":0.05},{"w":3990,"res":0.08},{"w":4000,"fit":2.55,"obs":2.52,"res":-0.06},{"w":4010,"res":-0.05},{"w":4012,"fit":2.3,"obs":2.33,"res":0.05},{"w":4020,"fit":1.95,"obs":1.93,"res":-0.04},{"w":4026,"fit":1.65,"obs":1.66,"res":0.03},{"w":4032,"fit":1.95,"obs":1.93,"res":-0.05},{"w":4045,"fit":2.22,"obs":2.25,"res":0.06},{"w":4050,"res":0.06},{"w":4060,"fit":2.32,"obs":2.3,"res":-0.05},{"w":4080,"fit":2.36,"obs":2.4,"res":0.06},{"w":4090,"res":0.05},{"w":4100,"fit":2.36,"obs":2.34,"res":-0.04},{"w":4112,"fit":2.3,"obs":2.33,"res":0.05},{"w":4121,"fit":2.18,"obs":2.16,"res":-0.04},{"w":4130,"fit":2.25,"obs":2.27,"res":0.03},{"w":4145,"fit":2.28,"obs":2.26,"res":-0.06},{"w":4165,"fit":2.22,"obs":2.24,"res":0.03},{"w":4190,"fit":2.17,"obs":2.16,"res":-0.03},{"w":4220,"fit":2.12,"obs":2.14,"res":0.03},{"w":4250,"fit":2.07,"obs":2.06,"res":-0.02},{"w":4280,"fit":2.03,"obs":2.05,"res":0.03},{"w":4310,"fit":1.98,"obs":1.97,"res":-0.02},{"w":4340,"fit":1.92,"obs":1.94,"res":0.02},{"w":4365,"fit":1.85,"obs":1.84,"res":-0.02},{"w":4380,"fit":1.78,"obs":1.79,"res":0.02},{"w":4388,"fit":1.6,"obs":1.58,"res":-0.03},{"w":4396,"fit":1.7,"obs":1.71,"res":0.02},{"w":4415,"fit":1.73,"obs":1.72,"res":-0.01},{"w":4440,"fit":1.63,"obs":1.64,"res":0.02},{"w":4455,"fit":1.48,"obs":1.47,"res":-0.01},{"w":4465,"fit":1.15,"obs":1.16,"res":0.01},{"w":4471,"fit":0.9,"obs":0.88,"res":-0.04},{"w":4477,"fit":1.15,"obs":1.16,"res":0.01},{"w":4490,"fit":1.42,"obs":1.43,"res":0.01},{"w":4510,"fit":1.49,"obs":1.5,"res":0.02},{"w":4540,"fit":1.48,"obs":1.47,"res":-0.01},{"w":4570,"fit":1.46,"obs":1.47,"res":0.01},{"w":4600,"fit":1.44,"obs":1.43,"res":-0.01},{"w":4630,"fit":1.42,"obs":1.43,"res":0.01},{"w":4660,"fit":1.4,"obs":1.39,"res":-0.01},{"w":4690,"fit":1.37,"obs":1.38,"res":0.01},{"w":4705,"fit":1.3,"obs":1.29,"res":-0.01},{"w":4713,"fit":1.07,"obs":1.06,"res":-0.02},{"w":4721,"fit":1.27,"obs":1.28,"res":0.02},{"w":4745,"fit":1.28,"obs":1.27,"res":-0.01},{"w":4775,"fit":1.25,"obs":1.26,"res":0.01},{"w":4805,"fit":1.22,"obs":1.21,"res":-0.01},{"w":4835,"fit":1.18,"obs":1.19,"res":0.01},{"w":4861,"fit":1.14,"obs":1.13,"res":-0.01},{"w":4885,"fit":1.1,"obs":1.11,"res":0.01},{"w":4905,"fit":1.04,"obs":1.03,"res":-0.01},{"w":4915,"fit":0.93,"obs":0.94,"res":0.01},{"w":4922,"fit":0.8,"obs":0.79,"res":-0.01},{"w":4930,"fit":0.93,"obs":0.94,"res":0.01},{"w":4945,"fit":1.02,"obs":1.01,"res":-0.01},{"w":4965,"fit":1.04,"obs":1.05,"res":0.01},{"w":4985,"fit":1.02,"obs":1.01,"res":-0.01},{"w":5000,"fit":0.99,"obs":1.0,"res":0.01},{"w":5010,"fit":0.88,"obs":0.87,"res":-0.01},{"w":5016,"fit":0.75,"obs":0.76,"res":0.01},{"w":5022,"fit":0.88,"obs":0.87,"res":-0.01},{"w":5035,"fit":0.95,"obs":0.96,"res":0.01},{"w":5048,"fit":0.88,"obs":0.87,"res":-0.01},{"w":5060,"fit":0.95,"obs":0.96,"res":0.01},{"w":5080,"fit":0.95,"obs":0.94,"res":-0.01},{"w":5110,"fit":0.93,"obs":0.94,"res":0.01},{"w":5150,"fit":0.91,"obs":0.91,"res":0},{"w":5200,"fit":0.88,"obs":0.89,"res":0.01},{"w":5250,"fit":0.85,"obs":0.85,"res":-0.01},{"w":5300,"fit":0.82,"obs":0.82,"res":0},{"w":5350,"fit":0.79,"obs":0.8,"res":0.01},{"w":5400,"fit":0.76,"obs":0.76,"res":-0.01},{"w":5450,"fit":0.73,"obs":0.73,"res":0},{"w":5500,"fit":0.7,"obs":0.71,"res":0.01},{"w":5550,"fit":0.67,"obs":0.67,"res":-0.01},{"w":5577,"fit":0.66,"obs":0.66,"res":0},{"w":5600,"fit":0.64,"obs":0.65,"res":0.01},{"w":5650,"fit":0.61,"obs":0.61,"res":-0.01},{"w":5700,"fit":0.58,"obs":0.58,"res":0},{"w":5750,"fit":0.55,"obs":0.56,"res":0.01},{"w":5800,"fit":0.52,"obs":0.52,"res":-0.01},{"w":5840,"fit":0.5,"obs":0.5,"res":0},{"w":5860,"fit":0.46,"obs":0.46,"res":0.01},{"w":5870,"fit":0.37,"obs":0.38,"res":0.01},{"w":5876,"fit":0.3,"obs":0.3,"res":-0.01},{"w":5882,"fit":0.37,"obs":0.37,"res":0},{"w":5895,"fit":0.43,"obs":0.43,"res":0.01},{"w":5920,"fit":0.44,"obs":0.44,"res":-0.01},{"w":5950,"fit":0.44,"obs":0.44,"res":0},{"w":6000,"fit":0.43,"obs":0.43,"res":0.01},{"w":6050,"fit":0.42,"obs":0.42,"res":-0.01},{"w":6100,"fit":0.41,"obs":0.41,"res":0},{"w":6150,"fit":0.4,"obs":0.4,"res":0.01},{"w":6200,"fit":0.39,"obs":0.39,"res":-0.01},{"w":6250,"fit":0.38,"obs":0.38,"res":0},{"w":6300,"fit":0.37,"obs":0.37,"res":0.01},{"w":6350,"fit":0.36,"obs":0.36,"res":-0.01},{"w":6400,"fit":0.35,"obs":0.35,"res":0},{"w":6450,"fit":0.34,"obs":0.34,"res":0.01},{"w":6500,"fit":0.33,"obs":0.33,"res":-0.01},{"w":6540,"fit":0.32,"obs":0.32,"res":0},{"w":6563,"fit":0.31,"obs":0.31,"res":0.01},{"w":6590,"fit":0.31,"obs":0.31,"res":-0.01},{"w":6630,"fit":0.3,"obs":0.3,"res":0},{"w":6660,"fit":0.28,"obs":0.28,"res":0.01},{"w":6672,"fit":0.24,"obs":0.24,"res":-0.01},{"w":6678,"fit":0.2,"obs":0.21,"res":0},{"w":6684,"fit":0.24,"obs":0.24,"res":0.01},{"w":6700,"fit":0.28,"obs":0.28,"res":-0.01},{"w":6740,"fit":0.27,"obs":0.27,"res":0},{"w":6790,"fit":0.27,"obs":0.27,"res":0.01},{"w":6840,"fit":0.26,"obs":0.26,"res":-0.01},{"w":6890,"fit":0.25,"obs":0.25,"res":0},{"w":6940,"fit":0.25,"obs":0.25,"res":0.01},{"w":6990,"fit":0.24,"obs":0.24,"res":-0.01},{"w":7040,"fit":0.23,"obs":0.23,"res":0},{"w":7058,"fit":0.2,"obs":0.2,"res":0.01},{"w":7065,"fit":0.17,"obs":0.18,"res":0},{"w":7072,"fit":0.2,"obs":0.2,"res":-0.01},{"w":7100,"fit":0.22,"obs":0.22,"res":0},{"w":7150,"fit":0.21,"obs":0.21},{"w":7200,"fit":0.2,"obs":0.2},
{"w":5125,"res":0.01},{"w":5175,"res":-0.01},{"w":5225,"res":0.02},{"w":5275,"res":-0.01},{"w":5325,"res":0},{"w":5375,"res":0.01},{"w":5425,"res":-0.02},{"w":5475,"res":0.01},{"w":5525,"res":-0.01},{"w":5575,"res":0.02},{"w":5625,"res":0},{"w":5675,"res":-0.01},{"w":5725,"res":0.01},{"w":5775,"res":-0.02},{"w":5825,"res":0.01},{"w":5875,"res":0},{"w":5925,"res":-0.01},{"w":5975,"res":0.02},{"w":6025,"res":-0.01},{"w":6075,"res":0.01},{"w":6125,"res":0},{"w":6175,"res":-0.01},{"w":6225,"res":0.01},{"w":6275,"res":-0.02},{"w":6325,"res":0.01},{"w":6375,"res":0},{"w":6425,"res":0.01},{"w":6475,"res":-0.01},{"w":6525,"res":0.02},{"w":6575,"res":-0.01},{"w":6625,"res":0},{"w":6675,"res":0.01},{"w":6725,"res":-0.01},{"w":6775,"res":0.01},{"w":6825,"res":-0.02},{"w":6875,"res":0.01},{"w":6925,"res":0},{"w":6975,"res":-0.01},{"w":7025,"res":0.01},{"w":7075,"res":-0.01}
],
"p6": [
{"w":3800,"fit":2.0,"obs":2.05,"res":0.05},{"w":3803,"res":-0.05},{"w":3810,"fit":1.85,"obs":1.8,"res":-0.06},{"w":3815,"res":0.1},{"w":3820,"fit":1.6,"obs":1.64,"res":0.08},{"w":3825,"res":-0.08},{"w":3830,"fit":1.82,"obs":1.78,"res":-0.05},{"w":3838,"res":0.04},{"w":3845,"fit":1.95,"obs":1.99,"res":0.06},{"w":3852,"res":-0.1},{"w":3860,"fit":1.98,"obs":1.94,"res":-0.04},{"w":3868,"res":0.08},{"w":3875,"fit":1.9,"obs":1.94,"res":0.07},{"w":3880,"res":-0.06},{"w":3883,"fit":1.6,"obs":1.57,"res":-0.05},{"w":3889,"fit":1.25,"obs":1.27,"res":0.04},{"w":3895,"fit":1.6,"obs":1.64,"res":0.06},{"w":3900,"res":-0.22},{"w":3905,"fit":1.95,"obs":1.91,"res":-0.08},{"w":3912,"res":0.14},{"w":3920,"fit":2.1,"obs":2.14,"res":0.1},{"w":3928,"res":0.05},{"w":3935,"fit":2.08,"obs":2.04,"res":-0.06},{"w":3942,"res":0.16},{"w":3950,"fit":1.95,"obs":1.99,"res":0.12},{"w":3955,"res":-0.1},{"w":3958,"fit":1.75,"obs":1.72,"res":-0.05},{"w":3965,"fit":1.48,"obs":1.5,"res":0.06},{"w":3972,"fit":1.72,"obs":1.69,"res":-0.07},{"w":3978,"res":0.02},{"w":3985,"fit":1.82,"obs":1.85,"res":0.05},{"w":3995,"res":-0.12},{"w":4000,"fit":1.72,"obs":1.69,"res":-0.06},{"w":4012,"fit":1.52,"obs":1.55,"res":0.05},{"w":4015,"res":0.06},{"w":4020,"fit":1.3,"obs":1.28,"res":-0.04},{"w":4026,"fit":1.15,"obs":1.16,"res":0.03},{"w":4032,"fit":1.32,"obs":1.3,"res":-0.05},{"w":4038,"res":-0.05},{"w":4045,"fit":1.55,"obs":1.58,"res":0.06},{"w":4052,"res":0.06},{"w":4060,"fit":1.72,"obs":1.7,"res":-0.04},{"w":4080,"fit":1.85,"obs":1.88,"res":0.05},{"w":4090,"res":-0.03},{"w":4100,"fit":1.88,"obs":1.86,"res":-0.03},{"w":4112,"fit":1.7,"obs":1.72,"res":0.04},{"w":4121,"fit":1.38,"obs":1.36,"res":-0.05},{"w":4122,"res":-0.2},{"w":4125,"res":-0.12},{"w":4130,"fit":1.55,"obs":1.57,"res":0.03},{"w":4140,"res":0.05},{"w":4145,"fit":1.7,"obs":1.68,"res":-0.04},{"w":4165,"fit":1.77,"obs":1.8,"res":0.04},{"w":4190,"fit":1.8,"obs":1.78,"res":-0.03},{"w":4220,"fit":1.8,"obs":1.79,"res":0.03},{"w":4250,"fit":1.79,"obs":1.77,"res":-0.03},{"w":4280,"fit":1.77,"obs":1.76,"res":0.03},{"w":4310,"fit":1.74,"obs":1.72,"res":-0.04},{"w":4340,"fit":1.67,"obs":1.68,"res":0.03},{"w":4365,"fit":1.55,"obs":1.53,"res":-0.04},{"w":4380,"fit":1.45,"obs":1.46,"res":0.03},{"w":4388,"fit":1.38,"obs":1.36,"res":-0.03},{"w":4396,"fit":1.42,"obs":1.43,"res":0.03},{"w":4415,"fit":1.45,"obs":1.44,"res":-0.02},{"w":4440,"fit":1.32,"obs":1.33,"res":0.02},{"w":4455,"fit":1.1,"obs":1.09,"res":-0.02},{"w":4465,"fit":0.95,"obs":0.96,"res":0.02},{"w":4471,"fit":0.88,"obs":0.87,"res":-0.02},{"w":4477,"fit":0.97,"obs":0.98,"res":0.02},{"w":4490,"fit":1.12,"obs":1.11,"res":-0.02},{"w":4510,"fit":1.26,"obs":1.27,"res":0.02},{"w":4540,"fit":1.34,"obs":1.33,"res":-0.02},{"w":4570,"fit":1.38,"obs":1.39,"res":0.02},{"w":4600,"fit":1.4,"obs":1.39,"res":-0.02},{"w":4630,"fit":1.4,"obs":1.41,"res":0.02},{"w":4660,"fit":1.38,"obs":1.37,"res":-0.02},{"w":4690,"fit":1.3,"obs":1.31,"res":0.02},{"w":4705,"fit":1.1,"obs":1.12,"res":0.02},{"w":4713,"fit":0.9,"obs":0.93,"res":0.04},{"w":4721,"fit":1.08,"obs":1.07,"res":-0.01},{"w":4745,"fit":1.24,"obs":1.25,"res":0.02},{"w":4775,"fit":1.26,"obs":1.25,"res":-0.01},{"w":4805,"fit":1.22,"obs":1.23,"res":0.01},{"w":4835,"fit":1.15,"obs":1.14,"res":-0.01},{"w":4861,"fit":1.08,"obs":1.09,"res":0.01},{"w":4885,"fit":1.02,"obs":1.01,"res":-0.01},{"w":4905,"fit":0.92,"obs":0.93,"res":0.01},{"w":4915,"fit":0.82,"obs":0.81,"res":-0.01},{"w":4922,"fit":0.75,"obs":0.76,"res":0.01},{"w":4930,"fit":0.82,"obs":0.81,"res":-0.01},{"w":4945,"fit":0.98,"obs":0.99,"res":0.01},{"w":4965,"fit":1.04,"obs":1.03,"res":-0.01},{"w":4985,"fit":1.03,"obs":1.04,"res":0.01},{"w":5000,"fit":0.96,"obs":0.95,"res":-0.02},{"w":5010,"fit":0.82,"obs":0.83,"res":0.01},{"w":5016,"fit":0.72,"obs":0.71,"res":-0.02},{"w":5022,"fit":0.82,"obs":0.83,"res":0.01},{"w":5035,"fit":0.97,"obs":0.96,"res":-0.01},{"w":5048,"fit":0.8,"obs":0.79,"res":-0.02},{"w":5060,"fit":0.96,"obs":0.97,"res":0.01},{"w":5080,"fit":1.0,"obs":0.99,"res":-0.01},{"w":5110,"fit":0.99,"obs":1.0,"res":0.01},{"w":5150,"fit":0.96,"obs":0.97,"res":0.02},{"w":5200,"fit":0.94,"obs":0.93,"res":-0.01},{"w":5250,"fit":0.92,"obs":0.93,"res":0.01},{"w":5300,"fit":0.9,"obs":0.89,"res":-0.01},{"w":5350,"fit":0.87,"obs":0.88,"res":0.01},{"w":5400,"fit":0.85,"obs":0.84,"res":-0.01},{"w":5450,"fit":0.82,"obs":0.83,"res":0.01},{"w":5500,"fit":0.79,"obs":0.78,"res":-0.01},{"w":5550,"fit":0.76,"obs":0.77,"res":0.01},{"w":5574,"fit":0.75,"obs":0.75,"res":0},{"w":5577,"fit":0.75,"obs":0.6,"res":-0.15},{"w":5580,"fit":0.75,"obs":0.74,"res":-0.01},{"w":5600,"fit":0.73,"obs":0.74,"res":0.01},{"w":5650,"fit":0.7,"obs":0.69,"res":-0.01},{"w":5700,"fit":0.68,"obs":0.69,"res":0.01},{"w":5750,"fit":0.65,"obs":0.64,"res":-0.01},{"w":5800,"fit":0.62,"obs":0.63,"res":0.01},{"w":5840,"fit":0.57,"obs":0.56,"res":-0.01},{"w":5860,"fit":0.5,"obs":0.51,"res":0.01},{"w":5870,"fit":0.42,"obs":0.43,"res":0.01},{"w":5876,"fit":0.38,"obs":0.37,"res":-0.02},{"w":5882,"fit":0.42,"obs":0.45,"res":0.03},{"w":5895,"fit":0.5,"obs":0.49,"res":-0.02},{"w":5920,"fit":0.52,"obs":0.53,"res":0.01},{"w":5950,"fit":0.53,"obs":0.52,"res":-0.01},{"w":6000,"fit":0.54,"obs":0.55,"res":0.01},{"w":6050,"fit":0.53,"obs":0.52,"res":-0.01},{"w":6100,"fit":0.51,"obs":0.52,"res":0.01},{"w":6150,"fit":0.5,"obs":0.49,"res":-0.01},{"w":6200,"fit":0.48,"obs":0.49,"res":0.01},{"w":6250,"fit":0.46,"obs":0.45,"res":-0.01},{"w":6300,"fit":0.44,"obs":0.45,"res":0.01},{"w":6350,"fit":0.43,"obs":0.42,"res":-0.02},{"w":6400,"fit":0.41,"obs":0.42,"res":0.01},{"w":6450,"fit":0.4,"obs":0.39,"res":-0.01},{"w":6500,"fit":0.39,"obs":0.4,"res":0.01},{"w":6540,"fit":0.38,"obs":0.37,"res":-0.01},{"w":6563,"fit":0.37,"obs":0.37,"res":0},{"w":6590,"fit":0.37,"obs":0.38,"res":0.01},{"w":6630,"fit":0.36,"obs":0.35,"res":-0.01},{"w":6660,"fit":0.33,"obs":0.34,"res":0.01},{"w":6672,"fit":0.29,"obs":0.29,"res":0},{"w":6678,"fit":0.27,"obs":0.28,"res":0.01},{"w":6684,"fit":0.3,"obs":0.3,"res":0},{"w":6700,"fit":0.35,"obs":0.35,"res":0},{"w":6740,"fit":0.35,"obs":0.35,"res":0.01},{"w":6790,"fit":0.35,"obs":0.35,"res":0},{"w":6840,"fit":0.34,"obs":0.34,"res":-0.01},{"w":6890,"fit":0.34,"obs":0.34,"res":0},{"w":6940,"fit":0.33,"obs":0.33,"res":0.01},{"w":6990,"fit":0.32,"obs":0.32,"res":0},{"w":7040,"fit":0.31,"obs":0.31,"res":-0.01},{"w":7058,"fit":0.27,"obs":0.27,"res":0},{"w":7065,"fit":0.25,"obs":0.25,"res":0.01},{"w":7072,"fit":0.28,"obs":0.28,"res":0},{"w":7100,"fit":0.3,"obs":0.3,"res":0},{"w":7150,"fit":0.3,"obs":0.3,"res":0.01},{"w":7200,"fit":0.3,"obs":0.3,"res":0},
{"w":5125,"res":0.01},{"w":5175,"res":-0.01},{"w":5225,"res":0.02},{"w":5275,"res":-0.01},{"w":5325,"res":0},{"w":5375,"res":0.01},{"w":5425,"res":-0.02},{"w":5475,"res":0.01},{"w":5525,"res":-0.01},{"w":5575,"res":0.02},{"w":5625,"res":0},{"w":5675,"res":-0.01},{"w":5725,"res":0.01},{"w":5775,"res":-0.02},{"w":5825,"res":0.01},{"w":5875,"res":0.02},{"w":5925,"res":-0.01},{"w":5975,"res":0.02},{"w":6025,"res":-0.01},{"w":6075,"res":0.01},{"w":6125,"res":0},{"w":6175,"res":-0.01},{"w":6225,"res":0.01},{"w":6275,"res":-0.02},{"w":6325,"res":0.01},{"w":6375,"res":0},{"w":6425,"res":0.01},{"w":6475,"res":-0.01},{"w":6525,"res":0.02},{"w":6575,"res":-0.01},{"w":6625,"res":0},{"w":6675,"res":0.01},{"w":6725,"res":-0.01},{"w":6775,"res":0.01},{"w":6825,"res":-0.01},{"w":6875,"res":0.01},{"w":6925,"res":0},{"w":6975,"res":-0.01},{"w":7025,"res":0.01},{"w":7075,"res":-0.01},{"w":7125,"res":0.01},{"w":7175,"res":0}
],
"p7": [
{"w":3800,"fit":2.35,"obs":2.6,"res":0.25},{"w":3803,"res":0.1},{"w":3810,"fit":2.3,"obs":2.18,"res":-0.15},{"w":3815,"res":0.05},{"w":3820,"fit":2.28,"obs":2.45,"res":0.18},{"w":3825,"res":-0.25},{"w":3830,"fit":2.32,"obs":2.15,"res":-0.2},{"w":3838,"res":0.2},{"w":3845,"fit":2.33,"obs":2.48,"res":0.15},{"w":3852,"res":-0.08},{"w":3860,"fit":2.33,"obs":2.2,"res":-0.12},{"w":3868,"res":0.15},{"w":3875,"fit":2.3,"obs":2.42,"res":0.1},{"w":3880,"res":-0.2},{"w":3883,"fit":2.05,"obs":1.95,"res":-0.1},{"w":3889,"fit":1.42,"obs":1.4,"res":-0.02},{"w":3895,"fit":2.05,"obs":2.18,"res":0.12},{"w":3900,"res":0.1},{"w":3905,"fit":2.28,"obs":2.15,"res":-0.12},{"w":3912,"res":-0.15},{"w":3920,"fit":2.3,"obs":2.45,"res":0.15},{"w":3925,"res":-0.5},{"w":3930,"fit":2.28,"obs":1.5,"res":-0.8},{"w":3933,"res":-0.85},{"w":3935,"fit":2.27,"obs":1.45,"res":-0.6},{"w":3937,"res":-0.4},{"w":3940,"fit":2.26,"obs":2.3,"res":0.05},{"w":3945,"res":0.1},{"w":3950,"fit":2.22,"obs":2.35,"res":0.12},{"w":3955,"res":-0.3},{"w":3958,"fit":2.18,"obs":2.05,"res":-0.1},{"w":3962,"res":-0.35},{"w":3965,"fit":2.1,"obs":1.5,"res":-0.45},{"w":3968,"res":-0.2},{"w":3972,"fit":2.16,"obs":2.25,"res":0.08},{"w":3978,"res":0.12},{"w":3985,"fit":2.18,"obs":2.05,"res":-0.1},{"w":3995,"res":-0.08},{"w":4000,"fit":2.12,"obs":2.22,"res":0.1},{"w":4005,"res":0.15},{"w":4012,"fit":1.98,"obs":1.9,"res":-0.07},{"w":4015,"res":-0.1},{"w":4020,"fit":1.78,"obs":1.85,"res":0.07},{"w":4026,"fit":1.55,"obs":1.52,"res":-0.04},{"w":4032,"fit":1.78,"obs":1.85,"res":0.07},{"w":4038,"res":0.06},{"w":4045,"fit":1.92,"obs":1.85,"res":-0.06},{"w":4052,"res":-0.05},{"w":4060,"fit":1.97,"obs":2.05,"res":0.08},{"w":4070,"res":0.08},{"w":4080,"fit":2.0,"obs":2.08,"res":0.07},{"w":4090,"res":-0.06},{"w":4100,"fit":1.99,"obs":1.92,"res":-0.06},{"w":4112,"fit":1.96,"obs":2.02,"res":0.06},{"w":4121,"fit":1.92,"obs":1.87,"res":-0.05},{"w":4130,"fit":1.94,"obs":1.99,"res":0.05},{"w":4140,"res":0.05},{"w":4145,"fit":1.93,"obs":1.88,"res":-0.05},{"w":4165,"fit":1.9,"obs":1.95,"res":0.05},{"w":4190,"fit":1.87,"obs":1.82,"res":-0.05},{"w":4220,"fit":1.83,"obs":1.88,"res":0.05},{"w":4250,"fit":1.8,"obs":1.76,"res":-0.04},{"w":4280,"fit":1.77,"obs":1.81,"res":0.04},{"w":4310,"fit":1.74,"obs":1.7,"res":-0.04},{"w":4340,"fit":1.7,"obs":1.75,"res":0.05},{"w":4365,"fit":1.66,"obs":1.62,"res":-0.04},{"w":4380,"fit":1.63,"obs":1.66,"res":0.03},{"w":4388,"fit":1.58,"obs":1.55,"res":-0.03},{"w":4396,"fit":1.6,"obs":1.63,"res":0.03},{"w":4415,"fit":1.58,"obs":1.55,"res":-0.03},{"w":4440,"fit":1.52,"obs":1.55,"res":0.03},{"w":4455,"fit":1.4,"obs":1.38,"res":-0.02},{"w":4465,"fit":1.1,"obs":1.12,"res":0.02},{"w":4471,"fit":0.85,"obs":0.86,"res":0.01},{"w":4477,"fit":1.1,"obs":1.12,"res":0.02},{"w":4490,"fit":1.35,"obs":1.33,"res":-0.02},{"w":4510,"fit":1.4,"obs":1.43,"res":0.03},{"w":4540,"fit":1.39,"obs":1.36,"res":-0.02},{"w":4570,"fit":1.37,"obs":1.4,"res":0.03},{"w":4600,"fit":1.35,"obs":1.33,"res":-0.02},{"w":4630,"fit":1.33,"obs":1.35,"res":0.02},{"w":4660,"fit":1.3,"obs":1.28,"res":-0.02},{"w":4690,"fit":1.27,"obs":1.29,"res":0.02},{"w":4705,"fit":1.2,"obs":1.18,"res":-0.02},{"w":4713,"fit":1.1,"obs":1.08,"res":-0.02},{"w":4721,"fit":1.18,"obs":1.2,"res":0.02},{"w":4745,"fit":1.2,"obs":1.18,"res":-0.02},{"w":4775,"fit":1.17,"obs":1.19,"res":0.02},{"w":4805,"fit":1.14,"obs":1.12,"res":-0.02},{"w":4835,"fit":1.11,"obs":1.13,"res":0.02},{"w":4850,"res":-0.12},{"w":4858,"fit":1.08,"obs":1.09,"res":0.01},{"w":4861,"fit":1.07,"obs":0.85,"res":-0.28},{"w":4864,"fit":1.07,"obs":1.06,"res":-0.01},{"w":4885,"fit":1.05,"obs":1.06,"res":0.01},{"w":4905,"fit":1.02,"obs":1.01,"res":-0.01},{"w":4915,"fit":0.97,"obs":0.98,"res":0.01},{"w":4922,"fit":0.92,"obs":0.91,"res":-0.01},{"w":4930,"fit":0.97,"obs":0.98,"res":0.01},{"w":4945,"fit":1.01,"obs":1.0,"res":-0.01},{"w":4965,"fit":1.02,"obs":1.03,"res":0.01},{"w":4985,"fit":1.01,"obs":1.0,"res":-0.01},{"w":5000,"fit":0.99,"obs":1.01,"res":0.01},{"w":5010,"fit":0.9,"obs":0.89,"res":-0.01},{"w":5016,"fit":0.82,"obs":0.83,"res":0.01},{"w":5022,"fit":0.9,"obs":0.89,"res":-0.01},{"w":5035,"fit":0.96,"obs":0.97,"res":0.01},{"w":5048,"fit":0.95,"obs":0.94,"res":-0.01},{"w":5060,"fit":0.95,"obs":0.96,"res":0.01},{"w":5080,"fit":0.94,"obs":0.93,"res":-0.01},{"w":5110,"fit":0.92,"obs":0.93,"res":0.01},{"w":5150,"fit":0.9,"obs":0.89,"res":-0.01},{"w":5200,"fit":0.88,"obs":0.89,"res":0.01},{"w":5250,"fit":0.86,"obs":0.85,"res":-0.01},{"w":5300,"fit":0.83,"obs":0.84,"res":0.01},{"w":5350,"fit":0.81,"obs":0.8,"res":-0.01},{"w":5400,"fit":0.79,"obs":0.8,"res":0.01},{"w":5450,"fit":0.77,"obs":0.76,"res":-0.01},{"w":5500,"fit":0.75,"obs":0.76,"res":0.01},{"w":5550,"fit":0.73,"obs":0.72,"res":-0.01},{"w":5577,"fit":0.72,"obs":0.73,"res":0.01},{"w":5600,"fit":0.71,"obs":0.7,"res":-0.01},{"w":5650,"fit":0.69,"obs":0.71,"res":0.02},{"w":5700,"fit":0.68,"obs":0.72,"res":0.03},{"w":5750,"fit":0.66,"obs":0.69,"res":0.03},{"w":5800,"fit":0.63,"obs":0.62,"res":-0.01},{"w":5840,"fit":0.6,"obs":0.61,"res":0.01},{"w":5860,"fit":0.54,"obs":0.53,"res":-0.01},{"w":5870,"fit":0.45,"obs":0.46,"res":0.01},{"w":5876,"fit":0.38,"obs":0.37,"res":-0.01},{"w":5882,"fit":0.46,"obs":0.47,"res":0.01},{"w":5895,"fit":0.56,"obs":0.55,"res":-0.01},{"w":5920,"fit":0.58,"obs":0.59,"res":0.01},{"w":5950,"fit":0.57,"obs":0.56,"res":-0.01},{"w":6000,"fit":0.56,"obs":0.57,"res":0.01},{"w":6050,"fit":0.55,"obs":0.54,"res":-0.01},{"w":6100,"fit":0.54,"obs":0.55,"res":0.01},{"w":6150,"fit":0.52,"obs":0.51,"res":-0.01},{"w":6200,"fit":0.51,"obs":0.52,"res":0.01},{"w":6250,"fit":0.49,"obs":0.48,"res":-0.01},{"w":6297,"fit":0.48,"obs":0.48,"res":0},{"w":6300,"fit":0.48,"obs":0.55,"res":0.06},{"w":6303,"fit":0.48,"obs":0.47,"res":0},{"w":6350,"fit":0.47,"obs":0.46,"res":-0.01},{"w":6400,"fit":0.45,"obs":0.46,"res":0.01},{"w":6450,"fit":0.44,"obs":0.43,"res":-0.01},{"w":6500,"fit":0.43,"obs":0.44,"res":0.01},{"w":6540,"fit":0.42,"obs":0.41,"res":-0.01},{"w":6560,"res":-0.15},{"w":6563,"fit":0.41,"obs":0.3,"res":-0.12},{"w":6590,"fit":0.4,"obs":0.4,"res":0},{"w":6630,"fit":0.39,"obs":0.4,"res":0.01},{"w":6660,"fit":0.37,"obs":0.36,"res":-0.01},{"w":6672,"fit":0.32,"obs":0.33,"res":0.01},{"w":6678,"fit":0.28,"obs":0.28,"res":0},{"w":6684,"fit":0.32,"obs":0.33,"res":0.01},{"w":6700,"fit":0.37,"obs":0.36,"res":-0.01},{"w":6740,"fit":0.37,"obs":0.38,"res":0.01},{"w":6790,"fit":0.36,"obs":0.35,"res":-0.01},{"w":6840,"fit":0.35,"obs":0.36,"res":0.01},{"w":6870,"fit":0.35,"obs":0.38,"res":0.03},{"w":6890,"fit":0.34,"obs":0.35,"res":0.01},{"w":6940,"fit":0.33,"obs":0.32,"res":-0.01},{"w":6990,"fit":0.32,"obs":0.33,"res":0.01},{"w":7040,"fit":0.3,"obs":0.3,"res":0},{"w":7058,"fit":0.27,"obs":0.28,"res":0.01},{"w":7065,"fit":0.25,"obs":0.25,"res":0},{"w":7072,"fit":0.28,"obs":0.29,"res":0.01},{"w":7100,"obs":0.3,"res":0},{"w":7150,"obs":0.29},{"w":7200,"obs":0.28},
{"w":5125,"res":0.02},{"w":5175,"res":-0.01},{"w":5225,"res":0.03},{"w":5275,"res":-0.02},{"w":5325,"res":0},{"w":5375,"res":0.02},{"w":5425,"res":-0.03},{"w":5475,"res":0.01},{"w":5525,"res":-0.02},{"w":5575,"res":0.03},{"w":5625,"res":0},{"w":5675,"res":0.02},{"w":5725,"res":0.03},{"w":5775,"res":-0.02},{"w":5825,"res":0.01},{"w":5875,"res":0},{"w":5925,"res":-0.02},{"w":5975,"res":0.03},{"w":6025,"res":-0.01},{"w":6075,"res":0.02},{"w":6125,"res":0},{"w":6175,"res":-0.02},{"w":6225,"res":0.01},{"w":6275,"res":-0.03},{"w":6325,"res":0.02},{"w":6375,"res":0},{"w":6425,"res":0.01},{"w":6475,"res":-0.02},{"w":6525,"res":0.03},{"w":6575,"res":-0.04},{"w":6625,"res":0},{"w":6675,"res":0.02},{"w":6725,"res":-0.01},{"w":6775,"res":0.02},{"w":6825,"res":-0.03},{"w":6875,"res":0.03},{"w":6925,"res":0},{"w":6975,"res":-0.02},{"w":7025,"res":0.01},{"w":7075,"res":-0.01}
]
},
"vconcat": [
{"hconcat": [
{"title": "Gaia EDR3 203931163247581184", "width": 534, "height": 143, "data": {"name": "p1"},
"layer": [
{"transform": [{"filter": "isValid(datum.obs)"}], "mark": {"type": "line", "strokeWidth": 1.3}, "encoding": {
"x": {"field": "w", "type": "quantitative", "scale": {"domain": [3630, 7370], "nice": false, "zero": false}, "axis": {"orient": "bottom", "values": [3700,3800,3900,4000,4100,4200,4300,4400,4500,4600,4700,4800,4900,5000,5100,5200,5300,5400,5500,5600,5700,5800,5900,6000,6100,6200,6300,6400,6500,6600,6700,6800,6900,7000,7100,7200,7300], "tickSize": {"condition": {"test": "datum.value % 500 === 0", "value": -4}, "value": -2}, "labelExpr": "datum.value % 500 === 0 ? datum.label : ''", "format": "d", "title": "Wavelength (Å)"}},
"y": {"field": "obs", "type": "quantitative", "scale": {"domain": [-0.58, 3.33], "nice": false, "zero": false}, "axis": {"orient": "left", "values": [0,1,2,3], "tickSize": -4, "format": "d", "title": "Normalized Flux"}},
"color": {"datum": "Observation", "scale": {"domain": ["Observation", "Best fit", "Residual"], "range": ["#222222", "#ff0000", "#008000"]}, "legend": {"orient": "top-right", "offset": 6, "title": null, "symbolType": "stroke", "encode": {"symbols": {"update": {"shape": {"signal": "datum.value === 'Residual' ? 'circle' : 'stroke'"}, "size": {"signal": "datum.value === 'Residual' ? 5 : 484"}, "fill": {"signal": "datum.value === 'Residual' ? '#008000' : 'transparent'"}, "stroke": {"signal": "datum.value === 'Observation' ? '#222222' : datum.value === 'Best fit' ? '#ff0000' : 'transparent'"}, "opacity": {"value": 1}}}}}}}},
{"transform": [{"filter": "isValid(datum.fit)"}], "mark": {"type": "line", "strokeWidth": 1}, "encoding": {
"x": {"field": "w", "type": "quantitative", "axis": {"orient": "top", "values": [3700,3800,3900,4000,4100,4200,4300,4400,4500,4600,4700,4800,4900,5000,5100,5200,5300,5400,5500,5600,5700,5800,5900,6000,6100,6200,6300,6400,6500,6600,6700,6800,6900,7000,7100,7200,7300], "tickSize": {"condition": {"test": "datum.value % 500 === 0", "value": -4}, "value": -2}, "labels": false, "title": null}},
"y": {"field": "fit", "type": "quantitative", "axis": {"orient": "right", "values": [-0.4,-0.2,0,0.2,0.4,0.6,0.8,1,1.2,1.4,1.6,1.8,2,2.2,2.4,2.6,2.8,3,3.2], "tickSize": {"condition": {"test": "abs(datum.value - round(datum.value)) < 0.001", "value": -4}, "value": -2}, "labels": false, "title": null}},
"color": {"datum": "Best fit"}}},
{"transform": [{"filter": "isValid(datum.res)"}], "mark": {"type": "point", "filled": true, "size": 10, "opacity": 0.6}, "encoding": {
"x": {"field": "w", "type": "quantitative", "axis": null},
"y": {"field": "res", "type": "quantitative", "axis": {"orient": "left", "values": [-0.4,-0.2,0.2,0.4,0.6,0.8,1.2,1.4,1.6,1.8,2.2,2.4,2.6,2.8,3.2], "tickSize": -2, "labels": false, "title": null}},
"color": {"datum": "Residual"}}}
],
"resolve": {"axis": {"x": "independent", "y": "independent"}}},
{"title": "Gaia EDR3 3351139990665573120", "width": 527, "height": 143, "data": {"name": "p2"},
"layer": [
{"transform": [{"filter": "isValid(datum.obs)"}], "mark": {"type": "line", "strokeWidth": 1.3}, "encoding": {
"x": {"field": "w", "type": "quantitative", "scale": {"domain": [3630, 7370], "nice": false, "zero": false}, "axis": {"orient": "bottom", "values": [3700,3800,3900,4000,4100,4200,4300,4400,4500,4600,4700,4800,4900,5000,5100,5200,5300,5400,5500,5600,5700,5800,5900,6000,6100,6200,6300,6400,6500,6600,6700,6800,6900,7000,7100,7200,7300], "tickSize": {"condition": {"test": "datum.value % 500 === 0", "value": -4}, "value": -2}, "labelExpr": "datum.value % 500 === 0 ? datum.label : ''", "format": "d", "title": "Wavelength (Å)"}},
"y": {"field": "obs", "type": "quantitative", "scale": {"domain": [-1.77, 4.65], "nice": false, "zero": false}, "axis": {"orient": "left", "values": [0,2,4], "tickSize": -4, "format": "d", "title": "Normalized Flux"}},
"color": {"datum": "Observation", "scale": {"domain": ["Observation", "Best fit", "Residual"], "range": ["#222222", "#ff0000", "#008000"]}, "legend": {"orient": "top-right", "offset": 6, "title": null, "symbolType": "stroke", "encode": {"symbols": {"update": {"shape": {"signal": "datum.value === 'Residual' ? 'circle' : 'stroke'"}, "size": {"signal": "datum.value === 'Residual' ? 5 : 484"}, "fill": {"signal": "datum.value === 'Residual' ? '#008000' : 'transparent'"}, "stroke": {"signal": "datum.value === 'Observation' ? '#222222' : datum.value === 'Best fit' ? '#ff0000' : 'transparent'"}, "opacity": {"value": 1}}}}}}}},
{"transform": [{"filter": "isValid(datum.fit)"}], "mark": {"type": "line", "strokeWidth": 1}, "encoding": {
"x": {"field": "w", "type": "quantitative", "axis": {"orient": "top", "values": [3700,3800,3900,4000,4100,4200,4300,4400,4500,4600,4700,4800,4900,5000,5100,5200,5300,5400,5500,5600,5700,5800,5900,6000,6100,6200,6300,6400,6500,6600,6700,6800,6900,7000,7100,7200,7300], "tickSize": {"condition": {"test": "datum.value % 500 === 0", "value": -4}, "value": -2}, "labels": false, "title": null}},
"y": {"field": "fit", "type": "quantitative", "axis": {"orient": "right", "values": [-1.5,-1,-0.5,0,0.5,1,1.5,2,2.5,3,3.5,4,4.5], "tickSize": {"condition": {"test": "abs(datum.value/2 - round(datum.value/2)) < 0.001", "value": -4}, "value": -2}, "labels": false, "title": null}},
"color": {"datum": "Best fit"}}},
{"transform": [{"filter": "isValid(datum.res)"}], "mark": {"type": "point", "filled": true, "size": 10, "opacity": 0.6}, "encoding": {
"x": {"field": "w", "type": "quantitative", "axis": null},
"y": {"field": "res", "type": "quantitative", "axis": {"orient": "left", "values": [-1.5,-1,-0.5,0.5,1,1.5,2.5,3,3.5,4.5], "tickSize": -2, "labels": false, "title": null}},
"color": {"datum": "Residual"}}}
],
"resolve": {"axis": {"x": "independent", "y": "independent"}}}
], "spacing": 39, "bounds": "flush", "resolve": {"scale": {"color": "independent"}, "legend": {"color": "independent"}}},
{"hconcat": [
{"title": "Gaia EDR3 3878793490528218752", "width": 534, "height": 148, "data": {"name": "p3"},
"layer": [
{"transform": [{"filter": "isValid(datum.obs)"}], "mark": {"type": "line", "strokeWidth": 1.3}, "encoding": {
"x": {"field": "w", "type": "quantitative", "scale": {"domain": [3630, 7370], "nice": false, "zero": false}, "axis": {"orient": "bottom", "values": [3700,3800,3900,4000,4100,4200,4300,4400,4500,4600,4700,4800,4900,5000,5100,5200,5300,5400,5500,5600,5700,5800,5900,6000,6100,6200,6300,6400,6500,6600,6700,6800,6900,7000,7100,7200,7300], "tickSize": {"condition": {"test": "datum.value % 500 === 0", "value": -4}, "value": -2}, "labelExpr": "datum.value % 500 === 0 ? datum.label : ''", "format": "d", "title": "Wavelength (Å)"}},
"y": {"field": "obs", "type": "quantitative", "scale": {"domain": [-0.58, 2.62], "nice": false, "zero": false}, "axis": {"orient": "left", "values": [0,1,2], "tickSize": -4, "format": "d", "title": "Normalized Flux"}},
"color": {"datum": "Observation", "scale": {"domain": ["Observation", "Best fit", "Residual"], "range": ["#222222", "#ff0000", "#008000"]}, "legend": {"orient": "top-right", "offset": 6, "title": null, "symbolType": "stroke", "encode": {"symbols": {"update": {"shape": {"signal": "datum.value === 'Residual' ? 'circle' : 'stroke'"}, "size": {"signal": "datum.value === 'Residual' ? 5 : 484"}, "fill": {"signal": "datum.value === 'Residual' ? '#008000' : 'transparent'"}, "stroke": {"signal": "datum.value === 'Observation' ? '#222222' : datum.value === 'Best fit' ? '#ff0000' : 'transparent'"}, "opacity": {"value": 1}}}}}}}},
{"transform": [{"filter": "isValid(datum.fit)"}], "mark": {"type": "line", "strokeWidth": 1}, "encoding": {
"x": {"field": "w", "type": "quantitative", "axis": {"orient": "top", "values": [3700,3800,3900,4000,4100,4200,4300,4400,4500,4600,4700,4800,4900,5000,5100,5200,5300,5400,5500,5600,5700,5800,5900,6000,6100,6200,6300,6400,6500,6600,6700,6800,6900,7000,7100,7200,7300], "tickSize": {"condition": {"test": "datum.value % 500 === 0", "value": -4}, "value": -2}, "labels": false, "title": null}},
"y": {"field": "fit", "type": "quantitative", "axis": {"orient": "right", "values": [-0.4,-0.2,0,0.2,0.4,0.6,0.8,1,1.2,1.4,1.6,1.8,2,2.2,2.4], "tickSize": {"condition": {"test": "abs(datum.value - round(datum.value)) < 0.001", "value": -4}, "value": -2}, "labels": false, "title": null}},
"color": {"datum": "Best fit"}}},
{"transform": [{"filter": "isValid(datum.res)"}], "mark": {"type": "point", "filled": true, "size": 10, "opacity": 0.6}, "encoding": {
"x": {"field": "w", "type": "quantitative", "axis": null},
"y": {"field": "res", "type": "quantitative", "axis": {"orient": "left", "values": [-0.4,-0.2,0.2,0.4,0.6,0.8,1.2,1.4,1.6,1.8,2.2,2.4], "tickSize": -2, "labels": false, "title": null}},
"color": {"datum": "Residual"}}}
],
"resolve": {"axis": {"x": "independent", "y": "independent"}}},
{"title": "Gaia EDR3 4002914643768684288", "width": 512, "height": 148, "data": {"name": "p4"},
"layer": [
{"transform": [{"filter": "isValid(datum.obs)"}], "mark": {"type": "line", "strokeWidth": 1.3}, "encoding": {
"x": {"field": "w", "type": "quantitative", "scale": {"domain": [3630, 7370], "nice": false, "zero": false}, "axis": {"orient": "bottom", "values": [3700,3800,3900,4000,4100,4200,4300,4400,4500,4600,4700,4800,4900,5000,5100,5200,5300,5400,5500,5600,5700,5800,5900,6000,6100,6200,6300,6400,6500,6600,6700,6800,6900,7000,7100,7200,7300], "tickSize": {"condition": {"test": "datum.value % 500 === 0", "value": -4}, "value": -2}, "labelExpr": "datum.value % 500 === 0 ? datum.label : ''", "format": "d", "title": "Wavelength (Å)"}},
"y": {"field": "obs", "type": "quantitative", "scale": {"domain": [-0.5, 2.18], "nice": false, "zero": false}, "axis": {"orient": "left", "values": [-0.5,0,0.5,1,1.5,2], "tickSize": -4, "format": ".1f", "title": "Normalized Flux"}},
"color": {"datum": "Observation", "scale": {"domain": ["Observation", "Best fit", "Residual"], "range": ["#222222", "#ff0000", "#008000"]}, "legend": {"orient": "top-right", "offset": 6, "title": null, "symbolType": "stroke", "encode": {"symbols": {"update": {"shape": {"signal": "datum.value === 'Residual' ? 'circle' : 'stroke'"}, "size": {"signal": "datum.value === 'Residual' ? 5 : 484"}, "fill": {"signal": "datum.value === 'Residual' ? '#008000' : 'transparent'"}, "stroke": {"signal": "datum.value === 'Observation' ? '#222222' : datum.value === 'Best fit' ? '#ff0000' : 'transparent'"}, "opacity": {"value": 1}}}}}}}},
{"transform": [{"filter": "isValid(datum.fit)"}], "mark": {"type": "line", "strokeWidth": 1}, "encoding": {
"x": {"field": "w", "type": "quantitative", "axis": {"orient": "top", "values": [3700,3800,3900,4000,4100,4200,4300,4400,4500,4600,4700,4800,4900,5000,5100,5200,5300,5400,5500,5600,5700,5800,5900,6000,6100,6200,6300,6400,6500,6600,6700,6800,6900,7000,7100,7200,7300], "tickSize": {"condition": {"test": "datum.value % 500 === 0", "value": -4}, "value": -2}, "labels": false, "title": null}},
"y": {"field": "fit", "type": "quantitative", "axis": {"orient": "right", "values": [-0.5,-0.4,-0.3,-0.2,-0.1,0,0.1,0.2,0.3,0.4,0.5,0.6,0.7,0.8,0.9,1,1.1,1.2,1.3,1.4,1.5,1.6,1.7,1.8,1.9,2,2.1], "tickSize": {"condition": {"test": "abs(datum.value*2 - round(datum.value*2)) < 0.001", "value": -4}, "value": -2}, "labels": false, "title": null}},
"color": {"datum": "Best fit"}}},
{"transform": [{"filter": "isValid(datum.res)"}], "mark": {"type": "point", "filled": true, "size": 10, "opacity": 0.6}, "encoding": {
"x": {"field": "w", "type": "quantitative", "axis": null},
"y": {"field": "res", "type": "quantitative", "axis": {"orient": "left", "values": [-0.4,-0.3,-0.2,-0.1,0.1,0.2,0.3,0.4,0.6,0.7,0.8,0.9,1.1,1.2,1.3,1.4,1.6,1.7,1.8,1.9,2.1], "tickSize": -2, "labels": false, "title": null}},
"color": {"datum": "Residual"}}}
],
"resolve": {"axis": {"x": "independent", "y": "independent"}}}
], "spacing": 54, "bounds": "flush", "resolve": {"scale": {"color": "independent"}, "legend": {"color": "independent"}}},
{"hconcat": [
{"title": "Gaia EDR3 5187830356195791488", "width": 534, "height": 141, "data": {"name": "p5"},
"layer": [
{"transform": [{"filter": "isValid(datum.obs)"}], "mark": {"type": "line", "strokeWidth": 1.3}, "encoding": {
"x": {"field": "w", "type": "quantitative", "scale": {"domain": [3630, 7370], "nice": false, "zero": false}, "axis": {"orient": "bottom", "values": [3700,3800,3900,4000,4100,4200,4300,4400,4500,4600,4700,4800,4900,5000,5100,5200,5300,5400,5500,5600,5700,5800,5900,6000,6100,6200,6300,6400,6500,6600,6700,6800,6900,7000,7100,7200,7300], "tickSize": {"condition": {"test": "datum.value % 500 === 0", "value": -4}, "value": -2}, "labelExpr": "datum.value % 500 === 0 ? datum.label : ''", "format": "d", "title": "Wavelength (Å)"}},
"y": {"field": "obs", "type": "quantitative", "scale": {"domain": [-1.62, 3.55], "nice": false, "zero": false}, "axis": {"orient": "left", "values": [-1,0,1,2,3], "tickSize": -4, "format": "d", "title": "Normalized Flux"}},
"color": {"datum": "Observation", "scale": {"domain": ["Observation", "Best fit", "Residual"], "range": ["#222222", "#ff0000", "#008000"]}, "legend": {"orient": "top-right", "offset": 6, "title": null, "symbolType": "stroke", "encode": {"symbols": {"update": {"shape": {"signal": "datum.value === 'Residual' ? 'circle' : 'stroke'"}, "size": {"signal": "datum.value === 'Residual' ? 5 : 484"}, "fill": {"signal": "datum.value === 'Residual' ? '#008000' : 'transparent'"}, "stroke": {"signal": "datum.value === 'Observation' ? '#222222' : datum.value === 'Best fit' ? '#ff0000' : 'transparent'"}, "opacity": {"value": 1}}}}}}}},
{"transform": [{"filter": "isValid(datum.fit)"}], "mark": {"type": "line", "strokeWidth": 1}, "encoding": {
"x": {"field": "w", "type": "quantitative", "axis": {"orient": "top", "values": [3700,3800,3900,4000,4100,4200,4300,4400,4500,4600,4700,4800,4900,5000,5100,5200,5300,5400,5500,5600,5700,5800,5900,6000,6100,6200,6300,6400,6500,6600,6700,6800,6900,7000,7100,7200,7300], "tickSize": {"condition": {"test": "datum.value % 500 === 0", "value": -4}, "value": -2}, "labels": false, "title": null}},
"y": {"field": "fit", "type": "quantitative", "axis": {"orient": "right", "values": [-1.6,-1.4,-1.2,-1,-0.8,-0.6,-0.4,-0.2,0,0.2,0.4,0.6,0.8,1,1.2,1.4,1.6,1.8,2,2.2,2.4,2.6,2.8,3,3.2,3.4], "tickSize": {"condition": {"test": "abs(datum.value - round(datum.value)) < 0.001", "value": -4}, "value": -2}, "labels": false, "title": null}},
"color": {"datum": "Best fit"}}},
{"transform": [{"filter": "isValid(datum.res)"}], "mark": {"type": "point", "filled": true, "size": 10, "opacity": 0.6}, "encoding": {
"x": {"field": "w", "type": "quantitative", "axis": null},
"y": {"field": "res", "type": "quantitative", "axis": {"orient": "left", "values": [-1.6,-1.4,-1.2,-0.8,-0.6,-0.4,-0.2,0.2,0.4,0.6,0.8,1.2,1.4,1.6,1.8,2.2,2.4,2.6,2.8,3.2,3.4], "tickSize": -2, "labels": false, "title": null}},
"color": {"datum": "Residual"}}}
],
"resolve": {"axis": {"x": "independent", "y": "independent"}}},
{"title": "Gaia EDR3 6893522196290097856", "width": 511, "height": 141, "data": {"name": "p6"},
"layer": [
{"transform": [{"filter": "isValid(datum.obs)"}], "mark": {"type": "line", "strokeWidth": 1.3}, "encoding": {
"x": {"field": "w", "type": "quantitative", "scale": {"domain": [3630, 7370], "nice": false, "zero": false}, "axis": {"orient": "bottom", "values": [3700,3800,3900,4000,4100,4200,4300,4400,4500,4600,4700,4800,4900,5000,5100,5200,5300,5400,5500,5600,5700,5800,5900,6000,6100,6200,6300,6400,6500,6600,6700,6800,6900,7000,7100,7200,7300], "tickSize": {"condition": {"test": "datum.value % 500 === 0", "value": -4}, "value": -2}, "labelExpr": "datum.value % 500 === 0 ? datum.label : ''", "format": "d", "title": "Wavelength (Å)"}},
"y": {"field": "obs", "type": "quantitative", "scale": {"domain": [-0.5, 2.35], "nice": false, "zero": false}, "axis": {"orient": "left", "values": [-0.5,0,0.5,1,1.5,2], "tickSize": -4, "format": ".1f", "title": "Normalized Flux"}},
"color": {"datum": "Observation", "scale": {"domain": ["Observation", "Best fit", "Residual"], "range": ["#222222", "#ff0000", "#008000"]}, "legend": {"orient": "top-right", "offset": 6, "title": null, "symbolType": "stroke", "encode": {"symbols": {"update": {"shape": {"signal": "datum.value === 'Residual' ? 'circle' : 'stroke'"}, "size": {"signal": "datum.value === 'Residual' ? 5 : 484"}, "fill": {"signal": "datum.value === 'Residual' ? '#008000' : 'transparent'"}, "stroke": {"signal": "datum.value === 'Observation' ? '#222222' : datum.value === 'Best fit' ? '#ff0000' : 'transparent'"}, "opacity": {"value": 1}}}}}}}},
{"transform": [{"filter": "isValid(datum.fit)"}], "mark": {"type": "line", "strokeWidth": 1}, "encoding": {
"x": {"field": "w", "type": "quantitative", "axis": {"orient": "top", "values": [3700,3800,3900,4000,4100,4200,4300,4400,4500,4600,4700,4800,4900,5000,5100,5200,5300,5400,5500,5600,5700,5800,5900,6000,6100,6200,6300,6400,6500,6600,6700,6800,6900,7000,7100,7200,7300], "tickSize": {"condition": {"test": "datum.value % 500 === 0", "value": -4}, "value": -2}, "labels": false, "title": null}},
"y": {"field": "fit", "type": "quantitative", "axis": {"orient": "right", "values": [-0.5,-0.4,-0.3,-0.2,-0.1,0,0.1,0.2,0.3,0.4,0.5,0.6,0.7,0.8,0.9,1,1.1,1.2,1.3,1.4,1.5,1.6,1.7,1.8,1.9,2,2.1,2.2,2.3], "tickSize": {"condition": {"test": "abs(datum.value*2 - round(datum.value*2)) < 0.001", "value": -4}, "value": -2}, "labels": false, "title": null}},
"color": {"datum": "Best fit"}}},
{"transform": [{"filter": "isValid(datum.res)"}], "mark": {"type": "point", "filled": true, "size": 10, "opacity": 0.6}, "encoding": {
"x": {"field": "w", "type": "quantitative", "axis": null},
"y": {"field": "res", "type": "quantitative", "axis": {"orient": "left", "values": [-0.4,-0.3,-0.2,-0.1,0.1,0.2,0.3,0.4,0.6,0.7,0.8,0.9,1.1,1.2,1.3,1.4,1.6,1.7,1.8,1.9,2.1,2.2,2.3], "tickSize": -2, "labels": false, "title": null}},
"color": {"datum": "Residual"}}}
],
"resolve": {"axis": {"x": "independent", "y": "independent"}}}
], "spacing": 55, "bounds": "flush", "resolve": {"scale": {"color": "independent"}, "legend": {"color": "independent"}}},
{"hconcat": [
{"width": 292, "height": 140, "data": {"values": []}, "mark": "point", "view": {"stroke": null}},
{"title": "Gaia EDR3 972551088836290816", "width": 530, "height": 140, "data": {"name": "p7"},
"layer": [
{"transform": [{"filter": "isValid(datum.obs)"}], "mark": {"type": "line", "strokeWidth": 1.3}, "encoding": {
"x": {"field": "w", "type": "quantitative", "scale": {"domain": [3630, 7370], "nice": false, "zero": false}, "axis": {"orient": "bottom", "values": [3700,3800,3900,4000,4100,4200,4300,4400,4500,4600,4700,4800,4900,5000,5100,5200,5300,5400,5500,5600,5700,5800,5900,6000,6100,6200,6300,6400,6500,6600,6700,6800,6900,7000,7100,7200,7300], "tickSize": {"condition": {"test": "datum.value % 500 === 0", "value": -4}, "value": -2}, "labelExpr": "datum.value % 500 === 0 ? datum.label : ''", "format": "d", "title": "Wavelength (Å)"}},
"y": {"field": "obs", "type": "quantitative", "scale": {"domain": [-1.19, 3.06], "nice": false, "zero": false}, "axis": {"orient": "left", "values": [-1,0,1,2,3], "tickSize": -4, "format": "d", "title": "Normalized Flux"}},
"color": {"datum": "Observation", "scale": {"domain": ["Observation", "Best fit", "Residual"], "range": ["#222222", "#ff0000", "#008000"]}, "legend": {"orient": "top-right", "offset": 6, "title": null, "symbolType": "stroke", "encode": {"symbols": {"update": {"shape": {"signal": "datum.value === 'Residual' ? 'circle' : 'stroke'"}, "size": {"signal": "datum.value === 'Residual' ? 5 : 484"}, "fill": {"signal": "datum.value === 'Residual' ? '#008000' : 'transparent'"}, "stroke": {"signal": "datum.value === 'Observation' ? '#222222' : datum.value === 'Best fit' ? '#ff0000' : 'transparent'"}, "opacity": {"value": 1}}}}}}}},
{"transform": [{"filter": "isValid(datum.fit)"}], "mark": {"type": "line", "strokeWidth": 1}, "encoding": {
"x": {"field": "w", "type": "quantitative", "axis": {"orient": "top", "values": [3700,3800,3900,4000,4100,4200,4300,4400,4500,4600,4700,4800,4900,5000,5100,5200,5300,5400,5500,5600,5700,5800,5900,6000,6100,6200,6300,6400,6500,6600,6700,6800,6900,7000,7100,7200,7300], "tickSize": {"condition": {"test": "datum.value % 500 === 0", "value": -4}, "value": -2}, "labels": false, "title": null}},
"y": {"field": "fit", "type": "quantitative", "axis": {"orient": "right", "values": [-1,-0.8,-0.6,-0.4,-0.2,0,0.2,0.4,0.6,0.8,1,1.2,1.4,1.6,1.8,2,2.2,2.4,2.6,2.8,3], "tickSize": {"condition": {"test": "abs(datum.value - round(datum.value)) < 0.001", "value": -4}, "value": -2}, "labels": false, "title": null}},
"color": {"datum": "Best fit"}}},
{"transform": [{"filter": "isValid(datum.res)"}], "mark": {"type": "point", "filled": true, "size": 10, "opacity": 0.6}, "encoding": {
"x": {"field": "w", "type": "quantitative", "axis": null},
"y": {"field": "res", "type": "quantitative", "axis": {"orient": "left", "values": [-0.8,-0.6,-0.4,-0.2,0.2,0.4,0.6,0.8,1.2,1.4,1.6,1.8,2.2,2.4,2.6,2.8], "tickSize": -2, "labels": false, "title": null}},
"color": {"datum": "Residual"}}}
],
"resolve": {"axis": {"x": "independent", "y": "independent"}}}
], "spacing": 0, "bounds": "flush", "resolve": {"scale": {"color": "independent"}, "legend": {"color": "independent"}}}
],
"config": {
"font": "Liberation Serif",
"background": "white",
"view": {"stroke": "black", "strokeWidth": 1},
"axis": {"domain": false, "grid": false, "tickColor": "black", "tickWidth": 0.8, "labelFont": "Liberation Serif", "labelFontSize": 10.5, "labelColor": "black", "labelOverlap": false, "labelFlush": false, "labelBound": false, "titleFont": "Liberation Serif", "titleFontSize": 12, "titleFontWeight": "normal", "titleColor": "black"},
"axisX": {"labelPadding": 7, "titlePadding": 5},
"axisY": {"labelPadding": 9, "titlePadding": 6},
"title": {"font": "Liberation Serif", "fontSize": 12, "fontWeight": "normal", "color": "black", "offset": 16},
"legend": {"labelFont": "Liberation Serif", "labelFontSize": 11.5, "labelColor": "black", "labelOffset": 9, "symbolSize": 484, "symbolStrokeWidth": 1, "clipHeight": 12, "rowPadding": 4, "padding": 0}
}
}
